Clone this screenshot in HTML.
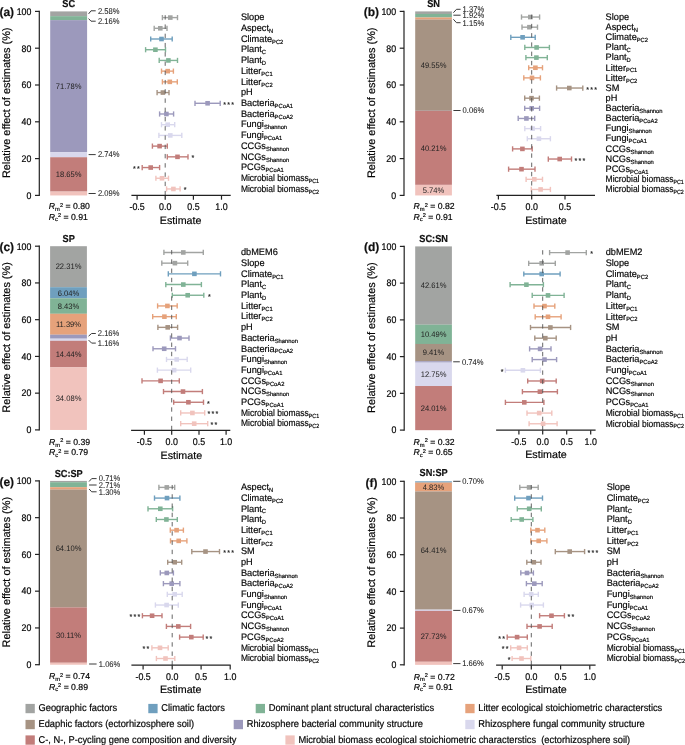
<!DOCTYPE html>
<html><head><meta charset="utf-8"><style>
html,body{margin:0;padding:0;background:#fff;width:685px;height:745px;overflow:hidden;}
svg{display:block;will-change:transform;}
</style></head><body>
<svg width="685" height="745" viewBox="0 0 685 745" font-family='"Liberation Sans", sans-serif' fill="#111" text-rendering="geometricPrecision">
<rect width="685" height="745" fill="#fff"/>
<text transform="translate(-0.6,15.9) scale(1,1.0)" font-size="12.0" font-weight="bold" fill="#111" stroke="#111" stroke-width="0.18">(a)</text>
<text transform="translate(68.7,7.1) scale(1,1.1)" font-size="9.2" text-anchor="middle" font-weight="bold" fill="#111" stroke="#111" stroke-width="0.18">SC</text>
<line x1="39.3" y1="10.8" x2="39.3" y2="196" stroke="#222" stroke-width="1.2"/>
<line x1="35" y1="195.4" x2="39.3" y2="195.4" stroke="#222" stroke-width="1.2"/>
<text transform="translate(31.4,198.7) scale(1,1.1)" font-size="8.8" text-anchor="end" fill="#050505" stroke="#050505" stroke-width="0.18">0</text>
<line x1="35" y1="158.6" x2="39.3" y2="158.6" stroke="#222" stroke-width="1.2"/>
<text transform="translate(31.4,161.9) scale(1,1.1)" font-size="8.8" text-anchor="end" fill="#050505" stroke="#050505" stroke-width="0.18">20</text>
<line x1="35" y1="121.8" x2="39.3" y2="121.8" stroke="#222" stroke-width="1.2"/>
<text transform="translate(31.4,125.1) scale(1,1.1)" font-size="8.8" text-anchor="end" fill="#050505" stroke="#050505" stroke-width="0.18">40</text>
<line x1="35" y1="85" x2="39.3" y2="85" stroke="#222" stroke-width="1.2"/>
<text transform="translate(31.4,88.3) scale(1,1.1)" font-size="8.8" text-anchor="end" fill="#050505" stroke="#050505" stroke-width="0.18">60</text>
<line x1="35" y1="48.2" x2="39.3" y2="48.2" stroke="#222" stroke-width="1.2"/>
<text transform="translate(31.4,51.5) scale(1,1.1)" font-size="8.8" text-anchor="end" fill="#050505" stroke="#050505" stroke-width="0.18">80</text>
<line x1="35" y1="11.4" x2="39.3" y2="11.4" stroke="#222" stroke-width="1.2"/>
<text transform="translate(31.4,14.7) scale(1,1.1)" font-size="8.8" text-anchor="end" fill="#050505" stroke="#050505" stroke-width="0.18">100</text>
<text transform="translate(9.9,102.8) rotate(-90) scale(1,1.0)" font-size="10.9" text-anchor="middle" fill="#050505" stroke="#050505" stroke-width="0.18">Relative effect of estimates (%)</text>
<rect x="50.2" y="11.4" width="36.9" height="4.8" fill="#a2a4a2"/>
<rect x="50.2" y="16.15" width="36.9" height="4.02" fill="#80b396"/>
<rect x="50.2" y="20.12" width="36.9" height="132.13" fill="#9c99bc"/>
<text transform="translate(68.65,88.96) scale(1,1.05)" font-size="7.6" text-anchor="middle" fill="#1e1e1e" stroke="#1e1e1e" stroke-width="0">71.78%</text>
<rect x="50.2" y="152.2" width="36.9" height="5.09" fill="#d9d8ed"/>
<rect x="50.2" y="157.24" width="36.9" height="34.37" fill="#c27d7a"/>
<text transform="translate(68.65,177.2) scale(1,1.05)" font-size="7.6" text-anchor="middle" fill="#1e1e1e" stroke="#1e1e1e" stroke-width="0">18.65%</text>
<rect x="50.2" y="191.55" width="36.9" height="3.9" fill="#f1c3bd"/>
<polyline points="88.6,13.9 91,10.8 95.7,10.8" fill="none" stroke="#3a3a3a" stroke-width="1.0"/>
<text transform="translate(97.9,13.6) scale(1,1.1)" font-size="7.6" fill="#1a1a1a" stroke="#1a1a1a" stroke-width="0.06">2.58%</text>
<polyline points="88.6,18.6 91,21.2 95.7,21.2" fill="none" stroke="#3a3a3a" stroke-width="1.0"/>
<text transform="translate(97.9,24) scale(1,1.1)" font-size="7.6" fill="#1a1a1a" stroke="#1a1a1a" stroke-width="0.06">2.16%</text>
<line x1="88.6" y1="154.6" x2="95.7" y2="154.6" stroke="#3a3a3a" stroke-width="1.0"/>
<text transform="translate(97.9,157.4) scale(1,1.1)" font-size="7.6" fill="#1a1a1a" stroke="#1a1a1a" stroke-width="0.06">2.74%</text>
<line x1="88.6" y1="193.5" x2="95.7" y2="193.5" stroke="#3a3a3a" stroke-width="1.0"/>
<text transform="translate(97.9,196.3) scale(1,1.1)" font-size="7.6" fill="#1a1a1a" stroke="#1a1a1a" stroke-width="0.06">2.09%</text>
<text transform="translate(48.8,209.1) scale(1,1.0)" font-size="8.7" fill="#050505" stroke="#050505" stroke-width="0.18"><tspan font-style="italic">R</tspan><tspan font-size="5.8" dy="1.7">m</tspan><tspan font-size="5.6" dy="-4.3">2</tspan><tspan dy="2.6"> = 0.80</tspan></text>
<text transform="translate(48.8,219.6) scale(1,1.0)" font-size="8.7" fill="#050505" stroke="#050505" stroke-width="0.18"><tspan font-style="italic">R</tspan><tspan font-size="5.8" dy="1.7">c</tspan><tspan font-size="5.6" dy="-4.3">2</tspan><tspan dy="2.6"> = 0.91</tspan></text>
<g stroke="#a2a4a2" stroke-width="1.4"><line x1="162.4" y1="17.58" x2="177.5" y2="17.58"/><line x1="162.4" y1="14.98" x2="162.4" y2="20.18"/><line x1="177.5" y1="14.98" x2="177.5" y2="20.18"/></g>
<rect x="168" y="15.28" width="4.6" height="4.6" fill="#a2a4a2"/>
<text transform="translate(240.9,20.33) scale(1,1.03)" font-size="9.2" fill="#050505" stroke="#050505" stroke-width="0.18">Slope</text>
<g stroke="#a2a4a2" stroke-width="1.4"><line x1="154.2" y1="28.29" x2="167" y2="28.29"/><line x1="154.2" y1="25.69" x2="154.2" y2="30.89"/><line x1="167" y1="25.69" x2="167" y2="30.89"/></g>
<rect x="158" y="25.99" width="4.6" height="4.6" fill="#a2a4a2"/>
<text transform="translate(240.9,31.04) scale(1,1.03)" font-size="9.2" fill="#050505" stroke="#050505" stroke-width="0.18">Aspect<tspan font-size="5.8" dy="1.9">N</tspan></text>
<g stroke="#6f9fbe" stroke-width="1.4"><line x1="150.7" y1="39" x2="172.2" y2="39"/><line x1="150.7" y1="36.4" x2="150.7" y2="41.6"/><line x1="172.2" y1="36.4" x2="172.2" y2="41.6"/></g>
<rect x="159.2" y="36.7" width="4.6" height="4.6" fill="#6f9fbe"/>
<text transform="translate(240.9,41.75) scale(1,1.03)" font-size="9.2" fill="#050505" stroke="#050505" stroke-width="0.18">Climate<tspan font-size="5.8" dy="1.9">PC2</tspan></text>
<g stroke="#80b396" stroke-width="1.4"><line x1="145.6" y1="49.72" x2="165.5" y2="49.72"/><line x1="145.6" y1="47.12" x2="145.6" y2="52.32"/><line x1="165.5" y1="47.12" x2="165.5" y2="52.32"/></g>
<rect x="153.1" y="47.42" width="4.6" height="4.6" fill="#80b396"/>
<text transform="translate(240.9,52.47) scale(1,1.03)" font-size="9.2" fill="#050505" stroke="#050505" stroke-width="0.18">Plant<tspan font-size="5.8" dy="1.9">C</tspan></text>
<g stroke="#80b396" stroke-width="1.4"><line x1="159.2" y1="60.43" x2="177.5" y2="60.43"/><line x1="159.2" y1="57.83" x2="159.2" y2="63.03"/><line x1="177.5" y1="57.83" x2="177.5" y2="63.03"/></g>
<rect x="166.1" y="58.13" width="4.6" height="4.6" fill="#80b396"/>
<text transform="translate(240.9,63.18) scale(1,1.03)" font-size="9.2" fill="#050505" stroke="#050505" stroke-width="0.18">Plant<tspan font-size="5.8" dy="1.9">D</tspan></text>
<g stroke="#e6a27b" stroke-width="1.4"><line x1="161.5" y1="71.14" x2="173.4" y2="71.14"/><line x1="161.5" y1="68.54" x2="161.5" y2="73.74"/><line x1="173.4" y1="68.54" x2="173.4" y2="73.74"/></g>
<rect x="165.4" y="68.84" width="4.6" height="4.6" fill="#e6a27b"/>
<text transform="translate(240.9,73.89) scale(1,1.03)" font-size="9.2" fill="#050505" stroke="#050505" stroke-width="0.18">Litter<tspan font-size="5.8" dy="1.9">PC1</tspan></text>
<g stroke="#e6a27b" stroke-width="1.4"><line x1="162.4" y1="81.85" x2="177.3" y2="81.85"/><line x1="162.4" y1="79.25" x2="162.4" y2="84.45"/><line x1="177.3" y1="79.25" x2="177.3" y2="84.45"/></g>
<rect x="167.5" y="79.55" width="4.6" height="4.6" fill="#e6a27b"/>
<text transform="translate(240.9,84.6) scale(1,1.03)" font-size="9.2" fill="#050505" stroke="#050505" stroke-width="0.18">Litter<tspan font-size="5.8" dy="1.9">PC2</tspan></text>
<g stroke="#a69383" stroke-width="1.4"><line x1="157.1" y1="92.56" x2="169" y2="92.56"/><line x1="157.1" y1="89.96" x2="157.1" y2="95.16"/><line x1="169" y1="89.96" x2="169" y2="95.16"/></g>
<rect x="160.6" y="90.26" width="4.6" height="4.6" fill="#a69383"/>
<text transform="translate(240.9,95.31) scale(1,1.03)" font-size="9.2" fill="#050505" stroke="#050505" stroke-width="0.18">pH</text>
<g stroke="#9c99bc" stroke-width="1.4"><line x1="195" y1="103.28" x2="220.2" y2="103.28"/><line x1="195" y1="100.68" x2="195" y2="105.88"/><line x1="220.2" y1="100.68" x2="220.2" y2="105.88"/></g>
<rect x="205.3" y="100.98" width="4.6" height="4.6" fill="#9c99bc"/>
<text transform="translate(223.2,106.78) scale(1,1.0)" font-size="7.1" fill="#111" stroke="#111" stroke-width="0.15" letter-spacing="1.25">***</text>
<text transform="translate(240.9,106.03) scale(1,1.03)" font-size="9.2" fill="#050505" stroke="#050505" stroke-width="0.18">Bacteria<tspan font-size="5.8" dy="1.9">PCoA1</tspan></text>
<g stroke="#9c99bc" stroke-width="1.4"><line x1="159.6" y1="113.99" x2="173.6" y2="113.99"/><line x1="159.6" y1="111.39" x2="159.6" y2="116.59"/><line x1="173.6" y1="111.39" x2="173.6" y2="116.59"/></g>
<rect x="164.1" y="111.69" width="4.6" height="4.6" fill="#9c99bc"/>
<text transform="translate(240.9,116.74) scale(1,1.03)" font-size="9.2" fill="#050505" stroke="#050505" stroke-width="0.18">Bacteria<tspan font-size="5.8" dy="1.9">PCoA2</tspan></text>
<g stroke="#d9d8ed" stroke-width="1.4"><line x1="161.5" y1="124.7" x2="174.7" y2="124.7"/><line x1="161.5" y1="122.1" x2="161.5" y2="127.3"/><line x1="174.7" y1="122.1" x2="174.7" y2="127.3"/></g>
<rect x="165.4" y="122.4" width="4.6" height="4.6" fill="#d9d8ed"/>
<text transform="translate(240.9,127.45) scale(1,1.03)" font-size="9.2" fill="#050505" stroke="#050505" stroke-width="0.18">Fungi<tspan font-size="5.8" dy="1.9">Shannon</tspan></text>
<g stroke="#d9d8ed" stroke-width="1.4"><line x1="158.9" y1="135.41" x2="181.8" y2="135.41"/><line x1="158.9" y1="132.81" x2="158.9" y2="138.01"/><line x1="181.8" y1="132.81" x2="181.8" y2="138.01"/></g>
<rect x="168" y="133.11" width="4.6" height="4.6" fill="#d9d8ed"/>
<text transform="translate(240.9,138.16) scale(1,1.03)" font-size="9.2" fill="#050505" stroke="#050505" stroke-width="0.18">Fungi<tspan font-size="5.8" dy="1.9">PCoA1</tspan></text>
<g stroke="#c27d7a" stroke-width="1.4"><line x1="152.4" y1="146.12" x2="167.3" y2="146.12"/><line x1="152.4" y1="143.52" x2="152.4" y2="148.72"/><line x1="167.3" y1="143.52" x2="167.3" y2="148.72"/></g>
<rect x="157.3" y="143.82" width="4.6" height="4.6" fill="#c27d7a"/>
<text transform="translate(240.9,148.87) scale(1,1.03)" font-size="9.2" fill="#050505" stroke="#050505" stroke-width="0.18">CCGs<tspan font-size="5.8" dy="1.9">Shannon</tspan></text>
<g stroke="#c27d7a" stroke-width="1.4"><line x1="167.3" y1="156.84" x2="188" y2="156.84"/><line x1="167.3" y1="154.24" x2="167.3" y2="159.44"/><line x1="188" y1="154.24" x2="188" y2="159.44"/></g>
<rect x="175.2" y="154.54" width="4.6" height="4.6" fill="#c27d7a"/>
<text transform="translate(191.6,160.34) scale(1,1.0)" font-size="7.1" fill="#111" stroke="#111" stroke-width="0.15" letter-spacing="1.25">*</text>
<text transform="translate(240.9,159.59) scale(1,1.03)" font-size="9.2" fill="#050505" stroke="#050505" stroke-width="0.18">NCGs<tspan font-size="5.8" dy="1.9">Shannon</tspan></text>
<g stroke="#c27d7a" stroke-width="1.4"><line x1="142.2" y1="167.55" x2="159.6" y2="167.55"/><line x1="142.2" y1="164.95" x2="142.2" y2="170.15"/><line x1="159.6" y1="164.95" x2="159.6" y2="170.15"/></g>
<rect x="148.4" y="165.25" width="4.6" height="4.6" fill="#c27d7a"/>
<text transform="translate(132.9,171.05) scale(1,1.0)" font-size="7.1" fill="#111" stroke="#111" stroke-width="0.15" letter-spacing="1.25">**</text>
<text transform="translate(240.9,170.3) scale(1,1.03)" font-size="9.2" fill="#050505" stroke="#050505" stroke-width="0.18">PCGs<tspan font-size="5.8" dy="1.9">PCoA1</tspan></text>
<g stroke="#f1c3bd" stroke-width="1.4"><line x1="155.9" y1="178.26" x2="168.5" y2="178.26"/><line x1="155.9" y1="175.66" x2="155.9" y2="180.86"/><line x1="168.5" y1="175.66" x2="168.5" y2="180.86"/></g>
<rect x="159.7" y="175.96" width="4.6" height="4.6" fill="#f1c3bd"/>
<text transform="translate(240.9,181.01) scale(1,1.03)" font-size="9.2" fill="#050505" stroke="#050505" stroke-width="0.18" textLength="78.2" lengthAdjust="spacingAndGlyphs">Microbial biomass<tspan font-size="5.8" dy="1.9">PC1</tspan></text>
<g stroke="#f1c3bd" stroke-width="1.4"><line x1="166.6" y1="188.97" x2="180.1" y2="188.97"/><line x1="166.6" y1="186.37" x2="166.6" y2="191.57"/><line x1="180.1" y1="186.37" x2="180.1" y2="191.57"/></g>
<rect x="171.1" y="186.67" width="4.6" height="4.6" fill="#f1c3bd"/>
<text transform="translate(183.8,192.47) scale(1,1.0)" font-size="7.1" fill="#111" stroke="#111" stroke-width="0.15" letter-spacing="1.25">*</text>
<text transform="translate(240.9,191.72) scale(1,1.03)" font-size="9.2" fill="#050505" stroke="#050505" stroke-width="0.18" textLength="78.2" lengthAdjust="spacingAndGlyphs">Microbial biomass<tspan font-size="5.8" dy="1.9">PC2</tspan></text>
<line x1="165.2" y1="15.18" x2="165.2" y2="195.4" stroke="#555" stroke-width="0.9" stroke-dasharray="4.4,4.85"/>
<line x1="131.4" y1="195.4" x2="230.7" y2="195.4" stroke="#222" stroke-width="1.2"/>
<line x1="137.1" y1="195.4" x2="137.1" y2="199.7" stroke="#222" stroke-width="1.2"/>
<text transform="translate(137.1,210) scale(1,1.1)" font-size="8.9" text-anchor="middle" fill="#050505" stroke="#050505" stroke-width="0.18">-0.5</text>
<line x1="165.2" y1="195.4" x2="165.2" y2="199.7" stroke="#222" stroke-width="1.2"/>
<text transform="translate(165.2,210) scale(1,1.1)" font-size="8.9" text-anchor="middle" fill="#050505" stroke="#050505" stroke-width="0.18">0.0</text>
<line x1="193.4" y1="195.4" x2="193.4" y2="199.7" stroke="#222" stroke-width="1.2"/>
<text transform="translate(193.4,210) scale(1,1.1)" font-size="8.9" text-anchor="middle" fill="#050505" stroke="#050505" stroke-width="0.18">0.5</text>
<line x1="221.5" y1="195.4" x2="221.5" y2="199.7" stroke="#222" stroke-width="1.2"/>
<text transform="translate(221.5,210) scale(1,1.1)" font-size="8.9" text-anchor="middle" fill="#050505" stroke="#050505" stroke-width="0.18">1.0</text>
<text transform="translate(180.6,223.6) scale(1,1.0)" font-size="10.7" text-anchor="middle" fill="#050505" stroke="#050505" stroke-width="0.18">Estimate</text>
<text transform="translate(363.7,15.9) scale(1,1.0)" font-size="12.0" font-weight="bold" fill="#111" stroke="#111" stroke-width="0.18">(b)</text>
<text transform="translate(433.6,7.1) scale(1,1.1)" font-size="9.2" text-anchor="middle" font-weight="bold" fill="#111" stroke="#111" stroke-width="0.18">SN</text>
<line x1="404" y1="10.8" x2="404" y2="196" stroke="#222" stroke-width="1.2"/>
<line x1="399.7" y1="195.4" x2="404" y2="195.4" stroke="#222" stroke-width="1.2"/>
<text transform="translate(396.1,198.7) scale(1,1.1)" font-size="8.8" text-anchor="end" fill="#050505" stroke="#050505" stroke-width="0.18">0</text>
<line x1="399.7" y1="158.6" x2="404" y2="158.6" stroke="#222" stroke-width="1.2"/>
<text transform="translate(396.1,161.9) scale(1,1.1)" font-size="8.8" text-anchor="end" fill="#050505" stroke="#050505" stroke-width="0.18">20</text>
<line x1="399.7" y1="121.8" x2="404" y2="121.8" stroke="#222" stroke-width="1.2"/>
<text transform="translate(396.1,125.1) scale(1,1.1)" font-size="8.8" text-anchor="end" fill="#050505" stroke="#050505" stroke-width="0.18">40</text>
<line x1="399.7" y1="85" x2="404" y2="85" stroke="#222" stroke-width="1.2"/>
<text transform="translate(396.1,88.3) scale(1,1.1)" font-size="8.8" text-anchor="end" fill="#050505" stroke="#050505" stroke-width="0.18">60</text>
<line x1="399.7" y1="48.2" x2="404" y2="48.2" stroke="#222" stroke-width="1.2"/>
<text transform="translate(396.1,51.5) scale(1,1.1)" font-size="8.8" text-anchor="end" fill="#050505" stroke="#050505" stroke-width="0.18">80</text>
<line x1="399.7" y1="11.4" x2="404" y2="11.4" stroke="#222" stroke-width="1.2"/>
<text transform="translate(396.1,14.7) scale(1,1.1)" font-size="8.8" text-anchor="end" fill="#050505" stroke="#050505" stroke-width="0.18">100</text>
<text transform="translate(374.6,102.8) rotate(-90) scale(1,1.0)" font-size="10.9" text-anchor="middle" fill="#050505" stroke="#050505" stroke-width="0.18">Relative effect of estimates (%)</text>
<rect x="415.2" y="11.4" width="36.7" height="2.57" fill="#a2a4a2"/>
<rect x="415.2" y="13.92" width="36.7" height="3.58" fill="#80b396"/>
<rect x="415.2" y="17.45" width="36.7" height="2.17" fill="#e6a27b"/>
<rect x="415.2" y="19.57" width="36.7" height="91.22" fill="#a69383"/>
<text transform="translate(433.55,67.96) scale(1,1.05)" font-size="7.6" text-anchor="middle" fill="#1e1e1e" stroke="#1e1e1e" stroke-width="0">49.55%</text>
<rect x="415.2" y="110.74" width="36.7" height="0.16" fill="#9c99bc"/>
<rect x="415.2" y="110.85" width="36.7" height="74.04" fill="#c27d7a"/>
<text transform="translate(433.55,150.65) scale(1,1.05)" font-size="7.6" text-anchor="middle" fill="#1e1e1e" stroke="#1e1e1e" stroke-width="0">40.21%</text>
<rect x="415.2" y="184.84" width="36.7" height="10.61" fill="#f1c3bd"/>
<text transform="translate(433.55,192.92) scale(1,1.05)" font-size="7.6" text-anchor="middle" fill="#1e1e1e" stroke="#1e1e1e" stroke-width="0">5.74%</text>
<polyline points="453.4,12.7 456.5,9.3 460.6,9.3" fill="none" stroke="#3a3a3a" stroke-width="1.0"/>
<text transform="translate(462.6,12.1) scale(1,1.1)" font-size="7.6" fill="#1a1a1a" stroke="#1a1a1a" stroke-width="0.06">1.37%</text>
<line x1="453.4" y1="15.2" x2="460.6" y2="15.2" stroke="#3a3a3a" stroke-width="1.0"/>
<text transform="translate(462.6,18) scale(1,1.1)" font-size="7.6" fill="#1a1a1a" stroke="#1a1a1a" stroke-width="0.06">1.92%</text>
<polyline points="453.4,19.3 456.5,22.7 460.6,22.7" fill="none" stroke="#3a3a3a" stroke-width="1.0"/>
<text transform="translate(462.6,25.5) scale(1,1.1)" font-size="7.6" fill="#1a1a1a" stroke="#1a1a1a" stroke-width="0.06">1.15%</text>
<line x1="453.4" y1="110.5" x2="460.6" y2="110.5" stroke="#3a3a3a" stroke-width="1.0"/>
<text transform="translate(462.6,113.3) scale(1,1.1)" font-size="7.6" fill="#1a1a1a" stroke="#1a1a1a" stroke-width="0.06">0.06%</text>
<text transform="translate(413.5,209.3) scale(1,1.0)" font-size="8.7" fill="#050505" stroke="#050505" stroke-width="0.18"><tspan font-style="italic">R</tspan><tspan font-size="5.8" dy="1.7">m</tspan><tspan font-size="5.6" dy="-4.3">2</tspan><tspan dy="2.6"> = 0.82</tspan></text>
<text transform="translate(413.5,219.6) scale(1,1.0)" font-size="8.7" fill="#050505" stroke="#050505" stroke-width="0.18"><tspan font-style="italic">R</tspan><tspan font-size="5.8" dy="1.7">c</tspan><tspan font-size="5.6" dy="-4.3">2</tspan><tspan dy="2.6"> = 0.91</tspan></text>
<g stroke="#a2a4a2" stroke-width="1.4"><line x1="521.5" y1="17.04" x2="539.6" y2="17.04"/><line x1="521.5" y1="14.44" x2="521.5" y2="19.64"/><line x1="539.6" y1="14.44" x2="539.6" y2="19.64"/></g>
<rect x="528" y="14.74" width="4.6" height="4.6" fill="#a2a4a2"/>
<text transform="translate(605.6,19.79) scale(1,1.03)" font-size="9.2" fill="#050505" stroke="#050505" stroke-width="0.18">Slope</text>
<g stroke="#a2a4a2" stroke-width="1.4"><line x1="522" y1="27.18" x2="537.5" y2="27.18"/><line x1="522" y1="24.58" x2="522" y2="29.78"/><line x1="537.5" y1="24.58" x2="537.5" y2="29.78"/></g>
<rect x="527.1" y="24.88" width="4.6" height="4.6" fill="#a2a4a2"/>
<text transform="translate(605.6,29.93) scale(1,1.03)" font-size="9.2" fill="#050505" stroke="#050505" stroke-width="0.18">Aspect<tspan font-size="5.8" dy="1.9">N</tspan></text>
<g stroke="#6f9fbe" stroke-width="1.4"><line x1="510.8" y1="37.32" x2="535.2" y2="37.32"/><line x1="510.8" y1="34.72" x2="510.8" y2="39.92"/><line x1="535.2" y1="34.72" x2="535.2" y2="39.92"/></g>
<rect x="520.3" y="35.02" width="4.6" height="4.6" fill="#6f9fbe"/>
<text transform="translate(605.6,40.07) scale(1,1.03)" font-size="9.2" fill="#050505" stroke="#050505" stroke-width="0.18">Climate<tspan font-size="5.8" dy="1.9">PC2</tspan></text>
<g stroke="#80b396" stroke-width="1.4"><line x1="524.8" y1="47.47" x2="549.4" y2="47.47"/><line x1="524.8" y1="44.87" x2="524.8" y2="50.07"/><line x1="549.4" y1="44.87" x2="549.4" y2="50.07"/></g>
<rect x="534.3" y="45.17" width="4.6" height="4.6" fill="#80b396"/>
<text transform="translate(605.6,50.22) scale(1,1.03)" font-size="9.2" fill="#050505" stroke="#050505" stroke-width="0.18">Plant<tspan font-size="5.8" dy="1.9">C</tspan></text>
<g stroke="#80b396" stroke-width="1.4"><line x1="525.9" y1="57.61" x2="547.3" y2="57.61"/><line x1="525.9" y1="55.01" x2="525.9" y2="60.21"/><line x1="547.3" y1="55.01" x2="547.3" y2="60.21"/></g>
<rect x="534.1" y="55.31" width="4.6" height="4.6" fill="#80b396"/>
<text transform="translate(605.6,60.36) scale(1,1.03)" font-size="9.2" fill="#050505" stroke="#050505" stroke-width="0.18">Plant<tspan font-size="5.8" dy="1.9">D</tspan></text>
<g stroke="#e6a27b" stroke-width="1.4"><line x1="528.7" y1="67.75" x2="542.5" y2="67.75"/><line x1="528.7" y1="65.15" x2="528.7" y2="70.35"/><line x1="542.5" y1="65.15" x2="542.5" y2="70.35"/></g>
<rect x="533.1" y="65.45" width="4.6" height="4.6" fill="#e6a27b"/>
<text transform="translate(605.6,70.5) scale(1,1.03)" font-size="9.2" fill="#050505" stroke="#050505" stroke-width="0.18">Litter<tspan font-size="5.8" dy="1.9">PC1</tspan></text>
<g stroke="#e6a27b" stroke-width="1.4"><line x1="523.8" y1="77.89" x2="540.4" y2="77.89"/><line x1="523.8" y1="75.29" x2="523.8" y2="80.49"/><line x1="540.4" y1="75.29" x2="540.4" y2="80.49"/></g>
<rect x="529.7" y="75.59" width="4.6" height="4.6" fill="#e6a27b"/>
<text transform="translate(605.6,80.64) scale(1,1.03)" font-size="9.2" fill="#050505" stroke="#050505" stroke-width="0.18">Litter<tspan font-size="5.8" dy="1.9">PC2</tspan></text>
<g stroke="#a69383" stroke-width="1.4"><line x1="556.6" y1="88.03" x2="582.8" y2="88.03"/><line x1="556.6" y1="85.43" x2="556.6" y2="90.63"/><line x1="582.8" y1="85.43" x2="582.8" y2="90.63"/></g>
<rect x="567" y="85.73" width="4.6" height="4.6" fill="#a69383"/>
<text transform="translate(586.3,91.53) scale(1,1.0)" font-size="7.1" fill="#111" stroke="#111" stroke-width="0.15" letter-spacing="1.25">***</text>
<text transform="translate(605.6,90.78) scale(1,1.03)" font-size="9.2" fill="#050505" stroke="#050505" stroke-width="0.18">SM</text>
<g stroke="#a69383" stroke-width="1.4"><line x1="524.7" y1="98.18" x2="539.4" y2="98.18"/><line x1="524.7" y1="95.58" x2="524.7" y2="100.78"/><line x1="539.4" y1="95.58" x2="539.4" y2="100.78"/></g>
<rect x="529.2" y="95.88" width="4.6" height="4.6" fill="#a69383"/>
<text transform="translate(605.6,100.93) scale(1,1.03)" font-size="9.2" fill="#050505" stroke="#050505" stroke-width="0.18">pH</text>
<g stroke="#9c99bc" stroke-width="1.4"><line x1="524.7" y1="108.32" x2="539.6" y2="108.32"/><line x1="524.7" y1="105.72" x2="524.7" y2="110.92"/><line x1="539.6" y1="105.72" x2="539.6" y2="110.92"/></g>
<rect x="529.4" y="106.02" width="4.6" height="4.6" fill="#9c99bc"/>
<text transform="translate(605.6,111.07) scale(1,1.03)" font-size="9.2" fill="#050505" stroke="#050505" stroke-width="0.18">Bacteria<tspan font-size="5.8" dy="1.9">Shannon</tspan></text>
<g stroke="#9c99bc" stroke-width="1.4"><line x1="518.2" y1="118.46" x2="534.7" y2="118.46"/><line x1="518.2" y1="115.86" x2="518.2" y2="121.06"/><line x1="534.7" y1="115.86" x2="534.7" y2="121.06"/></g>
<rect x="524.1" y="116.16" width="4.6" height="4.6" fill="#9c99bc"/>
<text transform="translate(605.6,121.21) scale(1,1.03)" font-size="9.2" fill="#050505" stroke="#050505" stroke-width="0.18">Bacteria<tspan font-size="5.8" dy="1.9">PCoA2</tspan></text>
<g stroke="#d9d8ed" stroke-width="1.4"><line x1="524.8" y1="128.6" x2="540.6" y2="128.6"/><line x1="524.8" y1="126" x2="524.8" y2="131.2"/><line x1="540.6" y1="126" x2="540.6" y2="131.2"/></g>
<rect x="530.3" y="126.3" width="4.6" height="4.6" fill="#d9d8ed"/>
<text transform="translate(605.6,131.35) scale(1,1.03)" font-size="9.2" fill="#050505" stroke="#050505" stroke-width="0.18">Fungi<tspan font-size="5.8" dy="1.9">Shannon</tspan></text>
<g stroke="#d9d8ed" stroke-width="1.4"><line x1="527.3" y1="138.74" x2="550.4" y2="138.74"/><line x1="527.3" y1="136.14" x2="527.3" y2="141.34"/><line x1="550.4" y1="136.14" x2="550.4" y2="141.34"/></g>
<rect x="536.6" y="136.44" width="4.6" height="4.6" fill="#d9d8ed"/>
<text transform="translate(605.6,141.49) scale(1,1.03)" font-size="9.2" fill="#050505" stroke="#050505" stroke-width="0.18">Fungi<tspan font-size="5.8" dy="1.9">PCoA1</tspan></text>
<g stroke="#c27d7a" stroke-width="1.4"><line x1="512.6" y1="148.89" x2="532.2" y2="148.89"/><line x1="512.6" y1="146.29" x2="512.6" y2="151.49"/><line x1="532.2" y1="146.29" x2="532.2" y2="151.49"/></g>
<rect x="520.1" y="146.59" width="4.6" height="4.6" fill="#c27d7a"/>
<text transform="translate(605.6,151.64) scale(1,1.03)" font-size="9.2" fill="#050505" stroke="#050505" stroke-width="0.18">CCGs<tspan font-size="5.8" dy="1.9">Shannon</tspan></text>
<g stroke="#c27d7a" stroke-width="1.4"><line x1="548.3" y1="159.03" x2="571.5" y2="159.03"/><line x1="548.3" y1="156.43" x2="548.3" y2="161.63"/><line x1="571.5" y1="156.43" x2="571.5" y2="161.63"/></g>
<rect x="557.4" y="156.73" width="4.6" height="4.6" fill="#c27d7a"/>
<text transform="translate(574.4,162.53) scale(1,1.0)" font-size="7.1" fill="#111" stroke="#111" stroke-width="0.15" letter-spacing="1.25">***</text>
<text transform="translate(605.6,161.78) scale(1,1.03)" font-size="9.2" fill="#050505" stroke="#050505" stroke-width="0.18">NCGs<tspan font-size="5.8" dy="1.9">Shannon</tspan></text>
<g stroke="#c27d7a" stroke-width="1.4"><line x1="508.6" y1="169.17" x2="535" y2="169.17"/><line x1="508.6" y1="166.57" x2="508.6" y2="171.77"/><line x1="535" y1="166.57" x2="535" y2="171.77"/></g>
<rect x="519.2" y="166.87" width="4.6" height="4.6" fill="#c27d7a"/>
<text transform="translate(605.6,171.92) scale(1,1.03)" font-size="9.2" fill="#050505" stroke="#050505" stroke-width="0.18">PCGs<tspan font-size="5.8" dy="1.9">PCoA1</tspan></text>
<g stroke="#f1c3bd" stroke-width="1.4"><line x1="526.1" y1="179.31" x2="542.5" y2="179.31"/><line x1="526.1" y1="176.71" x2="526.1" y2="181.91"/><line x1="542.5" y1="176.71" x2="542.5" y2="181.91"/></g>
<rect x="532" y="177.01" width="4.6" height="4.6" fill="#f1c3bd"/>
<text transform="translate(605.6,182.06) scale(1,1.03)" font-size="9.2" fill="#050505" stroke="#050505" stroke-width="0.18" textLength="78.2" lengthAdjust="spacingAndGlyphs">Microbial biomass<tspan font-size="5.8" dy="1.9">PC1</tspan></text>
<g stroke="#f1c3bd" stroke-width="1.4"><line x1="531.3" y1="189.45" x2="550.4" y2="189.45"/><line x1="531.3" y1="186.85" x2="531.3" y2="192.05"/><line x1="550.4" y1="186.85" x2="550.4" y2="192.05"/></g>
<rect x="538.3" y="187.15" width="4.6" height="4.6" fill="#f1c3bd"/>
<text transform="translate(605.6,192.2) scale(1,1.03)" font-size="9.2" fill="#050505" stroke="#050505" stroke-width="0.18" textLength="78.2" lengthAdjust="spacingAndGlyphs">Microbial biomass<tspan font-size="5.8" dy="1.9">PC2</tspan></text>
<line x1="531.7" y1="14.64" x2="531.7" y2="195.3" stroke="#555" stroke-width="0.9" stroke-dasharray="4.4,4.85"/>
<line x1="496.4" y1="195.3" x2="595" y2="195.3" stroke="#222" stroke-width="1.2"/>
<line x1="498.4" y1="195.3" x2="498.4" y2="199.6" stroke="#222" stroke-width="1.2"/>
<text transform="translate(498.4,209.9) scale(1,1.1)" font-size="8.9" text-anchor="middle" fill="#050505" stroke="#050505" stroke-width="0.18">-0.5</text>
<line x1="531.7" y1="195.3" x2="531.7" y2="199.6" stroke="#222" stroke-width="1.2"/>
<text transform="translate(531.7,209.9) scale(1,1.1)" font-size="8.9" text-anchor="middle" fill="#050505" stroke="#050505" stroke-width="0.18">0.0</text>
<line x1="565" y1="195.3" x2="565" y2="199.6" stroke="#222" stroke-width="1.2"/>
<text transform="translate(565,209.9) scale(1,1.1)" font-size="8.9" text-anchor="middle" fill="#050505" stroke="#050505" stroke-width="0.18">0.5</text>
<text transform="translate(546,223.5) scale(1,1.0)" font-size="10.7" text-anchor="middle" fill="#050505" stroke="#050505" stroke-width="0.18">Estimate</text>
<text transform="translate(-0.6,251) scale(1,1.0)" font-size="12.0" font-weight="bold" fill="#111" stroke="#111" stroke-width="0.18">(c)</text>
<text transform="translate(68.7,242) scale(1,1.1)" font-size="9.2" text-anchor="middle" font-weight="bold" fill="#111" stroke="#111" stroke-width="0.18">SP</text>
<line x1="39.3" y1="245.6" x2="39.3" y2="430.5" stroke="#222" stroke-width="1.2"/>
<line x1="35" y1="429.9" x2="39.3" y2="429.9" stroke="#222" stroke-width="1.2"/>
<text transform="translate(31.4,433.2) scale(1,1.1)" font-size="8.8" text-anchor="end" fill="#050505" stroke="#050505" stroke-width="0.18">0</text>
<line x1="35" y1="393.16" x2="39.3" y2="393.16" stroke="#222" stroke-width="1.2"/>
<text transform="translate(31.4,396.46) scale(1,1.1)" font-size="8.8" text-anchor="end" fill="#050505" stroke="#050505" stroke-width="0.18">20</text>
<line x1="35" y1="356.42" x2="39.3" y2="356.42" stroke="#222" stroke-width="1.2"/>
<text transform="translate(31.4,359.72) scale(1,1.1)" font-size="8.8" text-anchor="end" fill="#050505" stroke="#050505" stroke-width="0.18">40</text>
<line x1="35" y1="319.68" x2="39.3" y2="319.68" stroke="#222" stroke-width="1.2"/>
<text transform="translate(31.4,322.98) scale(1,1.1)" font-size="8.8" text-anchor="end" fill="#050505" stroke="#050505" stroke-width="0.18">60</text>
<line x1="35" y1="282.94" x2="39.3" y2="282.94" stroke="#222" stroke-width="1.2"/>
<text transform="translate(31.4,286.24) scale(1,1.1)" font-size="8.8" text-anchor="end" fill="#050505" stroke="#050505" stroke-width="0.18">80</text>
<line x1="35" y1="246.2" x2="39.3" y2="246.2" stroke="#222" stroke-width="1.2"/>
<text transform="translate(31.4,249.5) scale(1,1.1)" font-size="8.8" text-anchor="end" fill="#050505" stroke="#050505" stroke-width="0.18">100</text>
<text transform="translate(9.9,337.45) rotate(-90) scale(1,1.0)" font-size="10.9" text-anchor="middle" fill="#050505" stroke="#050505" stroke-width="0.18">Relative effect of estimates (%)</text>
<rect x="50.1" y="246.2" width="36.8" height="41.03" fill="#a2a4a2"/>
<text transform="translate(68.5,269.49) scale(1,1.05)" font-size="7.6" text-anchor="middle" fill="#1e1e1e" stroke="#1e1e1e" stroke-width="0">22.31%</text>
<rect x="50.1" y="287.18" width="36.8" height="11.15" fill="#6f9fbe"/>
<text transform="translate(68.5,295.53) scale(1,1.05)" font-size="7.6" text-anchor="middle" fill="#1e1e1e" stroke="#1e1e1e" stroke-width="0">6.04%</text>
<rect x="50.1" y="298.28" width="36.8" height="15.54" fill="#80b396"/>
<text transform="translate(68.5,308.82) scale(1,1.05)" font-size="7.6" text-anchor="middle" fill="#1e1e1e" stroke="#1e1e1e" stroke-width="0">8.43%</text>
<rect x="50.1" y="313.76" width="36.8" height="20.97" fill="#e6a27b"/>
<text transform="translate(68.5,327.03) scale(1,1.05)" font-size="7.6" text-anchor="middle" fill="#1e1e1e" stroke="#1e1e1e" stroke-width="0">11.39%</text>
<rect x="50.1" y="334.69" width="36.8" height="4.02" fill="#9c99bc"/>
<rect x="50.1" y="338.66" width="36.8" height="2.18" fill="#d9d8ed"/>
<rect x="50.1" y="340.79" width="36.8" height="26.58" fill="#c27d7a"/>
<text transform="translate(68.5,356.85) scale(1,1.05)" font-size="7.6" text-anchor="middle" fill="#1e1e1e" stroke="#1e1e1e" stroke-width="0">14.44%</text>
<rect x="50.1" y="367.31" width="36.8" height="62.65" fill="#f1c3bd"/>
<text transform="translate(68.5,401.42) scale(1,1.05)" font-size="7.6" text-anchor="middle" fill="#1e1e1e" stroke="#1e1e1e" stroke-width="0">34.08%</text>
<polyline points="88.6,336.1 91.6,333.5 95.8,333.5" fill="none" stroke="#3a3a3a" stroke-width="1.0"/>
<text transform="translate(97.8,336.3) scale(1,1.1)" font-size="7.6" fill="#1a1a1a" stroke="#1a1a1a" stroke-width="0.06">2.16%</text>
<polyline points="88.6,340.1 91.6,343.1 95.8,343.1" fill="none" stroke="#3a3a3a" stroke-width="1.0"/>
<text transform="translate(97.8,345.9) scale(1,1.1)" font-size="7.6" fill="#1a1a1a" stroke="#1a1a1a" stroke-width="0.06">1.16%</text>
<text transform="translate(49,444.9) scale(1,1.0)" font-size="8.7" fill="#050505" stroke="#050505" stroke-width="0.18"><tspan font-style="italic">R</tspan><tspan font-size="5.8" dy="1.7">m</tspan><tspan font-size="5.6" dy="-4.3">2</tspan><tspan dy="2.6"> = 0.39</tspan></text>
<text transform="translate(49,455.2) scale(1,1.0)" font-size="8.7" fill="#050505" stroke="#050505" stroke-width="0.18"><tspan font-style="italic">R</tspan><tspan font-size="5.8" dy="1.7">c</tspan><tspan font-size="5.6" dy="-4.3">2</tspan><tspan dy="2.6"> = 0.79</tspan></text>
<g stroke="#a2a4a2" stroke-width="1.4"><line x1="163.9" y1="252.45" x2="203.3" y2="252.45"/><line x1="163.9" y1="249.85" x2="163.9" y2="255.05"/><line x1="203.3" y1="249.85" x2="203.3" y2="255.05"/></g>
<rect x="181" y="250.15" width="4.6" height="4.6" fill="#a2a4a2"/>
<text transform="translate(241,255.2) scale(1,1.03)" font-size="9.2" fill="#050505" stroke="#050505" stroke-width="0.18">dbMEM6</text>
<g stroke="#a2a4a2" stroke-width="1.4"><line x1="161.8" y1="263.15" x2="187.7" y2="263.15"/><line x1="161.8" y1="260.55" x2="161.8" y2="265.75"/><line x1="187.7" y1="260.55" x2="187.7" y2="265.75"/></g>
<rect x="172.6" y="260.85" width="4.6" height="4.6" fill="#a2a4a2"/>
<text transform="translate(241,265.9) scale(1,1.03)" font-size="9.2" fill="#050505" stroke="#050505" stroke-width="0.18">Slope</text>
<g stroke="#6f9fbe" stroke-width="1.4"><line x1="168.3" y1="273.85" x2="220.5" y2="273.85"/><line x1="168.3" y1="271.25" x2="168.3" y2="276.45"/><line x1="220.5" y1="271.25" x2="220.5" y2="276.45"/></g>
<rect x="192.1" y="271.55" width="4.6" height="4.6" fill="#6f9fbe"/>
<text transform="translate(241,276.6) scale(1,1.03)" font-size="9.2" fill="#050505" stroke="#050505" stroke-width="0.18">Climate<tspan font-size="5.8" dy="1.9">PC1</tspan></text>
<g stroke="#80b396" stroke-width="1.4"><line x1="165.8" y1="284.55" x2="201.4" y2="284.55"/><line x1="165.8" y1="281.95" x2="165.8" y2="287.15"/><line x1="201.4" y1="281.95" x2="201.4" y2="287.15"/></g>
<rect x="181" y="282.25" width="4.6" height="4.6" fill="#80b396"/>
<text transform="translate(241,287.3) scale(1,1.03)" font-size="9.2" fill="#050505" stroke="#050505" stroke-width="0.18">Plant<tspan font-size="5.8" dy="1.9">C</tspan></text>
<g stroke="#80b396" stroke-width="1.4"><line x1="172.3" y1="295.25" x2="203.8" y2="295.25"/><line x1="172.3" y1="292.65" x2="172.3" y2="297.85"/><line x1="203.8" y1="292.65" x2="203.8" y2="297.85"/></g>
<rect x="185.4" y="292.95" width="4.6" height="4.6" fill="#80b396"/>
<text transform="translate(208,298.75) scale(1,1.0)" font-size="7.1" fill="#111" stroke="#111" stroke-width="0.15" letter-spacing="1.25">*</text>
<text transform="translate(241,298) scale(1,1.03)" font-size="9.2" fill="#050505" stroke="#050505" stroke-width="0.18">Plant<tspan font-size="5.8" dy="1.9">D</tspan></text>
<g stroke="#e6a27b" stroke-width="1.4"><line x1="157.6" y1="305.95" x2="177.2" y2="305.95"/><line x1="157.6" y1="303.35" x2="157.6" y2="308.56"/><line x1="177.2" y1="303.35" x2="177.2" y2="308.56"/></g>
<rect x="165.1" y="303.65" width="4.6" height="4.6" fill="#e6a27b"/>
<text transform="translate(241,308.7) scale(1,1.03)" font-size="9.2" fill="#050505" stroke="#050505" stroke-width="0.18">Litter<tspan font-size="5.8" dy="1.9">PC1</tspan></text>
<g stroke="#e6a27b" stroke-width="1.4"><line x1="152.7" y1="316.66" x2="176.3" y2="316.66"/><line x1="152.7" y1="314.06" x2="152.7" y2="319.26"/><line x1="176.3" y1="314.06" x2="176.3" y2="319.26"/></g>
<rect x="162.1" y="314.36" width="4.6" height="4.6" fill="#e6a27b"/>
<text transform="translate(241,319.41) scale(1,1.03)" font-size="9.2" fill="#050505" stroke="#050505" stroke-width="0.18">Litter<tspan font-size="5.8" dy="1.9">PC2</tspan></text>
<g stroke="#a69383" stroke-width="1.4"><line x1="157.9" y1="327.36" x2="177.6" y2="327.36"/><line x1="157.9" y1="324.76" x2="157.9" y2="329.96"/><line x1="177.6" y1="324.76" x2="177.6" y2="329.96"/></g>
<rect x="165.4" y="325.06" width="4.6" height="4.6" fill="#a69383"/>
<text transform="translate(241,330.11) scale(1,1.03)" font-size="9.2" fill="#050505" stroke="#050505" stroke-width="0.18">pH</text>
<g stroke="#9c99bc" stroke-width="1.4"><line x1="170.4" y1="338.06" x2="189" y2="338.06"/><line x1="170.4" y1="335.46" x2="170.4" y2="340.66"/><line x1="189" y1="335.46" x2="189" y2="340.66"/></g>
<rect x="177.2" y="335.76" width="4.6" height="4.6" fill="#9c99bc"/>
<text transform="translate(241,340.81) scale(1,1.03)" font-size="9.2" fill="#050505" stroke="#050505" stroke-width="0.18">Bacteria<tspan font-size="5.8" dy="1.9">Shannon</tspan></text>
<g stroke="#9c99bc" stroke-width="1.4"><line x1="153" y1="348.76" x2="175.5" y2="348.76"/><line x1="153" y1="346.16" x2="153" y2="351.36"/><line x1="175.5" y1="346.16" x2="175.5" y2="351.36"/></g>
<rect x="161.9" y="346.46" width="4.6" height="4.6" fill="#9c99bc"/>
<text transform="translate(241,351.51) scale(1,1.03)" font-size="9.2" fill="#050505" stroke="#050505" stroke-width="0.18">Bacteria<tspan font-size="5.8" dy="1.9">PCoA2</tspan></text>
<g stroke="#d9d8ed" stroke-width="1.4"><line x1="166.5" y1="359.46" x2="187.2" y2="359.46"/><line x1="166.5" y1="356.86" x2="166.5" y2="362.06"/><line x1="187.2" y1="356.86" x2="187.2" y2="362.06"/></g>
<rect x="174.4" y="357.16" width="4.6" height="4.6" fill="#d9d8ed"/>
<text transform="translate(241,362.21) scale(1,1.03)" font-size="9.2" fill="#050505" stroke="#050505" stroke-width="0.18">Fungi<tspan font-size="5.8" dy="1.9">Shannon</tspan></text>
<g stroke="#d9d8ed" stroke-width="1.4"><line x1="157.4" y1="370.16" x2="190.7" y2="370.16"/><line x1="157.4" y1="367.56" x2="157.4" y2="372.76"/><line x1="190.7" y1="367.56" x2="190.7" y2="372.76"/></g>
<rect x="171.8" y="367.86" width="4.6" height="4.6" fill="#d9d8ed"/>
<text transform="translate(241,372.91) scale(1,1.03)" font-size="9.2" fill="#050505" stroke="#050505" stroke-width="0.18">Fungi<tspan font-size="5.8" dy="1.9">PCoA1</tspan></text>
<g stroke="#c27d7a" stroke-width="1.4"><line x1="142" y1="380.86" x2="179.3" y2="380.86"/><line x1="142" y1="378.26" x2="142" y2="383.46"/><line x1="179.3" y1="378.26" x2="179.3" y2="383.46"/></g>
<rect x="158.3" y="378.56" width="4.6" height="4.6" fill="#c27d7a"/>
<text transform="translate(241,383.61) scale(1,1.03)" font-size="9.2" fill="#050505" stroke="#050505" stroke-width="0.18">CCGs<tspan font-size="5.8" dy="1.9">PCoA2</tspan></text>
<g stroke="#c27d7a" stroke-width="1.4"><line x1="163.5" y1="391.56" x2="202.4" y2="391.56"/><line x1="163.5" y1="388.96" x2="163.5" y2="394.16"/><line x1="202.4" y1="388.96" x2="202.4" y2="394.16"/></g>
<rect x="180.7" y="389.26" width="4.6" height="4.6" fill="#c27d7a"/>
<text transform="translate(241,394.31) scale(1,1.03)" font-size="9.2" fill="#050505" stroke="#050505" stroke-width="0.18">NCGs<tspan font-size="5.8" dy="1.9">Shannon</tspan></text>
<g stroke="#c27d7a" stroke-width="1.4"><line x1="173.7" y1="402.26" x2="203.5" y2="402.26"/><line x1="173.7" y1="399.66" x2="173.7" y2="404.86"/><line x1="203.5" y1="399.66" x2="203.5" y2="404.86"/></g>
<rect x="186.1" y="399.96" width="4.6" height="4.6" fill="#c27d7a"/>
<text transform="translate(207.1,405.76) scale(1,1.0)" font-size="7.1" fill="#111" stroke="#111" stroke-width="0.15" letter-spacing="1.25">*</text>
<text transform="translate(241,405.01) scale(1,1.03)" font-size="9.2" fill="#050505" stroke="#050505" stroke-width="0.18">PCGs<tspan font-size="5.8" dy="1.9">PCoA1</tspan></text>
<g stroke="#f1c3bd" stroke-width="1.4"><line x1="180.7" y1="412.97" x2="204.7" y2="412.97"/><line x1="180.7" y1="410.37" x2="180.7" y2="415.57"/><line x1="204.7" y1="410.37" x2="204.7" y2="415.57"/></g>
<rect x="190.1" y="410.67" width="4.6" height="4.6" fill="#f1c3bd"/>
<text transform="translate(207.5,416.47) scale(1,1.0)" font-size="7.1" fill="#111" stroke="#111" stroke-width="0.15" letter-spacing="1.25">***</text>
<text transform="translate(241,415.72) scale(1,1.03)" font-size="9.2" fill="#050505" stroke="#050505" stroke-width="0.18" textLength="78.2" lengthAdjust="spacingAndGlyphs">Microbial biomass<tspan font-size="5.8" dy="1.9">PC1</tspan></text>
<g stroke="#f1c3bd" stroke-width="1.4"><line x1="180.7" y1="423.67" x2="207.7" y2="423.67"/><line x1="180.7" y1="421.07" x2="180.7" y2="426.27"/><line x1="207.7" y1="421.07" x2="207.7" y2="426.27"/></g>
<rect x="191.9" y="421.37" width="4.6" height="4.6" fill="#f1c3bd"/>
<text transform="translate(210.6,427.17) scale(1,1.0)" font-size="7.1" fill="#111" stroke="#111" stroke-width="0.15" letter-spacing="1.25">**</text>
<text transform="translate(241,426.42) scale(1,1.03)" font-size="9.2" fill="#050505" stroke="#050505" stroke-width="0.18" textLength="78.2" lengthAdjust="spacingAndGlyphs">Microbial biomass<tspan font-size="5.8" dy="1.9">PC2</tspan></text>
<line x1="171.7" y1="250.05" x2="171.7" y2="430.4" stroke="#555" stroke-width="0.9" stroke-dasharray="4.4,4.85"/>
<line x1="131.1" y1="430.4" x2="230.3" y2="430.4" stroke="#222" stroke-width="1.2"/>
<line x1="144.4" y1="430.4" x2="144.4" y2="434.7" stroke="#222" stroke-width="1.2"/>
<text transform="translate(144.4,445) scale(1,1.1)" font-size="8.9" text-anchor="middle" fill="#050505" stroke="#050505" stroke-width="0.18">-0.5</text>
<line x1="171.7" y1="430.4" x2="171.7" y2="434.7" stroke="#222" stroke-width="1.2"/>
<text transform="translate(171.7,445) scale(1,1.1)" font-size="8.9" text-anchor="middle" fill="#050505" stroke="#050505" stroke-width="0.18">0.0</text>
<line x1="199" y1="430.4" x2="199" y2="434.7" stroke="#222" stroke-width="1.2"/>
<text transform="translate(199,445) scale(1,1.1)" font-size="8.9" text-anchor="middle" fill="#050505" stroke="#050505" stroke-width="0.18">0.5</text>
<line x1="226.1" y1="430.4" x2="226.1" y2="434.7" stroke="#222" stroke-width="1.2"/>
<text transform="translate(226.1,445) scale(1,1.1)" font-size="8.9" text-anchor="middle" fill="#050505" stroke="#050505" stroke-width="0.18">1.0</text>
<text transform="translate(181.3,458.6) scale(1,1.0)" font-size="10.7" text-anchor="middle" fill="#050505" stroke="#050505" stroke-width="0.18">Estimate</text>
<text transform="translate(364,251.2) scale(1,1.0)" font-size="12.0" font-weight="bold" fill="#111" stroke="#111" stroke-width="0.18">(d)</text>
<text transform="translate(433.6,241.9) scale(1,1.1)" font-size="9.2" text-anchor="middle" font-weight="bold" fill="#111" stroke="#111" stroke-width="0.18">SC:SN</text>
<line x1="404.2" y1="245.8" x2="404.2" y2="430.7" stroke="#222" stroke-width="1.2"/>
<line x1="399.9" y1="430.1" x2="404.2" y2="430.1" stroke="#222" stroke-width="1.2"/>
<text transform="translate(396.3,433.4) scale(1,1.1)" font-size="8.8" text-anchor="end" fill="#050505" stroke="#050505" stroke-width="0.18">0</text>
<line x1="399.9" y1="393.36" x2="404.2" y2="393.36" stroke="#222" stroke-width="1.2"/>
<text transform="translate(396.3,396.66) scale(1,1.1)" font-size="8.8" text-anchor="end" fill="#050505" stroke="#050505" stroke-width="0.18">20</text>
<line x1="399.9" y1="356.62" x2="404.2" y2="356.62" stroke="#222" stroke-width="1.2"/>
<text transform="translate(396.3,359.92) scale(1,1.1)" font-size="8.8" text-anchor="end" fill="#050505" stroke="#050505" stroke-width="0.18">40</text>
<line x1="399.9" y1="319.88" x2="404.2" y2="319.88" stroke="#222" stroke-width="1.2"/>
<text transform="translate(396.3,323.18) scale(1,1.1)" font-size="8.8" text-anchor="end" fill="#050505" stroke="#050505" stroke-width="0.18">60</text>
<line x1="399.9" y1="283.14" x2="404.2" y2="283.14" stroke="#222" stroke-width="1.2"/>
<text transform="translate(396.3,286.44) scale(1,1.1)" font-size="8.8" text-anchor="end" fill="#050505" stroke="#050505" stroke-width="0.18">80</text>
<line x1="399.9" y1="246.4" x2="404.2" y2="246.4" stroke="#222" stroke-width="1.2"/>
<text transform="translate(396.3,249.7) scale(1,1.1)" font-size="8.8" text-anchor="end" fill="#050505" stroke="#050505" stroke-width="0.18">100</text>
<text transform="translate(374.8,337.65) rotate(-90) scale(1,1.0)" font-size="10.9" text-anchor="middle" fill="#050505" stroke="#050505" stroke-width="0.18">Relative effect of estimates (%)</text>
<rect x="415.2" y="246.4" width="36.7" height="78.32" fill="#a2a4a2"/>
<text transform="translate(433.55,288.34) scale(1,1.05)" font-size="7.6" text-anchor="middle" fill="#1e1e1e" stroke="#1e1e1e" stroke-width="0">42.61%</text>
<rect x="415.2" y="324.67" width="36.7" height="19.32" fill="#80b396"/>
<text transform="translate(433.55,337.11) scale(1,1.05)" font-size="7.6" text-anchor="middle" fill="#1e1e1e" stroke="#1e1e1e" stroke-width="0">10.49%</text>
<rect x="415.2" y="343.94" width="36.7" height="17.34" fill="#a69383"/>
<text transform="translate(433.55,355.39) scale(1,1.05)" font-size="7.6" text-anchor="middle" fill="#1e1e1e" stroke="#1e1e1e" stroke-width="0">9.41%</text>
<rect x="415.2" y="361.23" width="36.7" height="1.41" fill="#9c99bc"/>
<rect x="415.2" y="362.59" width="36.7" height="23.47" fill="#d9d8ed"/>
<text transform="translate(433.55,377.1) scale(1,1.05)" font-size="7.6" text-anchor="middle" fill="#1e1e1e" stroke="#1e1e1e" stroke-width="0">12.75%</text>
<rect x="415.2" y="386.01" width="36.7" height="44.16" fill="#c27d7a"/>
<text transform="translate(433.55,410.87) scale(1,1.05)" font-size="7.6" text-anchor="middle" fill="#1e1e1e" stroke="#1e1e1e" stroke-width="0">24.01%</text>
<line x1="453.2" y1="361.8" x2="459.8" y2="361.8" stroke="#3a3a3a" stroke-width="1.0"/>
<text transform="translate(462,364.6) scale(1,1.1)" font-size="7.6" fill="#1a1a1a" stroke="#1a1a1a" stroke-width="0.06">0.74%</text>
<text transform="translate(413.5,444.9) scale(1,1.0)" font-size="8.7" fill="#050505" stroke="#050505" stroke-width="0.18"><tspan font-style="italic">R</tspan><tspan font-size="5.8" dy="1.7">m</tspan><tspan font-size="5.6" dy="-4.3">2</tspan><tspan dy="2.6"> = 0.32</tspan></text>
<text transform="translate(413.5,455.2) scale(1,1.0)" font-size="8.7" fill="#050505" stroke="#050505" stroke-width="0.18"><tspan font-style="italic">R</tspan><tspan font-size="5.8" dy="1.7">c</tspan><tspan font-size="5.6" dy="-4.3">2</tspan><tspan dy="2.6"> = 0.65</tspan></text>
<g stroke="#a2a4a2" stroke-width="1.4"><line x1="549.6" y1="252.59" x2="586.3" y2="252.59"/><line x1="549.6" y1="249.99" x2="549.6" y2="255.19"/><line x1="586.3" y1="249.99" x2="586.3" y2="255.19"/></g>
<rect x="565.3" y="250.29" width="4.6" height="4.6" fill="#a2a4a2"/>
<text transform="translate(590.2,256.09) scale(1,1.0)" font-size="7.1" fill="#111" stroke="#111" stroke-width="0.15" letter-spacing="1.25">*</text>
<text transform="translate(605.7,255.34) scale(1,1.03)" font-size="9.2" fill="#050505" stroke="#050505" stroke-width="0.18">dbMEM2</text>
<g stroke="#a2a4a2" stroke-width="1.4"><line x1="528.7" y1="263.29" x2="555.3" y2="263.29"/><line x1="528.7" y1="260.69" x2="528.7" y2="265.89"/><line x1="555.3" y1="260.69" x2="555.3" y2="265.89"/></g>
<rect x="539.4" y="260.99" width="4.6" height="4.6" fill="#a2a4a2"/>
<text transform="translate(605.7,266.04) scale(1,1.03)" font-size="9.2" fill="#050505" stroke="#050505" stroke-width="0.18">Slope</text>
<g stroke="#6f9fbe" stroke-width="1.4"><line x1="523.8" y1="273.99" x2="560.1" y2="273.99"/><line x1="523.8" y1="271.39" x2="523.8" y2="276.59"/><line x1="560.1" y1="271.39" x2="560.1" y2="276.59"/></g>
<rect x="539.4" y="271.69" width="4.6" height="4.6" fill="#6f9fbe"/>
<text transform="translate(605.7,276.74) scale(1,1.03)" font-size="9.2" fill="#050505" stroke="#050505" stroke-width="0.18">Climate<tspan font-size="5.8" dy="1.9">PC2</tspan></text>
<g stroke="#80b396" stroke-width="1.4"><line x1="510.1" y1="284.69" x2="543.4" y2="284.69"/><line x1="510.1" y1="282.09" x2="510.1" y2="287.29"/><line x1="543.4" y1="282.09" x2="543.4" y2="287.29"/></g>
<rect x="524.1" y="282.39" width="4.6" height="4.6" fill="#80b396"/>
<text transform="translate(605.7,287.44) scale(1,1.03)" font-size="9.2" fill="#050505" stroke="#050505" stroke-width="0.18">Plant<tspan font-size="5.8" dy="1.9">C</tspan></text>
<g stroke="#80b396" stroke-width="1.4"><line x1="532.2" y1="295.39" x2="564.1" y2="295.39"/><line x1="532.2" y1="292.79" x2="532.2" y2="297.99"/><line x1="564.1" y1="292.79" x2="564.1" y2="297.99"/></g>
<rect x="545.7" y="293.09" width="4.6" height="4.6" fill="#80b396"/>
<text transform="translate(605.7,298.14) scale(1,1.03)" font-size="9.2" fill="#050505" stroke="#050505" stroke-width="0.18">Plant<tspan font-size="5.8" dy="1.9">D</tspan></text>
<g stroke="#e6a27b" stroke-width="1.4"><line x1="534" y1="306.08" x2="554.8" y2="306.08"/><line x1="534" y1="303.48" x2="534" y2="308.69"/><line x1="554.8" y1="303.48" x2="554.8" y2="308.69"/></g>
<rect x="542.2" y="303.78" width="4.6" height="4.6" fill="#e6a27b"/>
<text transform="translate(605.7,308.83) scale(1,1.03)" font-size="9.2" fill="#050505" stroke="#050505" stroke-width="0.18">Litter<tspan font-size="5.8" dy="1.9">PC1</tspan></text>
<g stroke="#e6a27b" stroke-width="1.4"><line x1="535.2" y1="316.78" x2="561.1" y2="316.78"/><line x1="535.2" y1="314.18" x2="535.2" y2="319.38"/><line x1="561.1" y1="314.18" x2="561.1" y2="319.38"/></g>
<rect x="545.7" y="314.48" width="4.6" height="4.6" fill="#e6a27b"/>
<text transform="translate(605.7,319.53) scale(1,1.03)" font-size="9.2" fill="#050505" stroke="#050505" stroke-width="0.18">Litter<tspan font-size="5.8" dy="1.9">PC2</tspan></text>
<g stroke="#a69383" stroke-width="1.4"><line x1="530.5" y1="327.48" x2="570.6" y2="327.48"/><line x1="530.5" y1="324.88" x2="530.5" y2="330.08"/><line x1="570.6" y1="324.88" x2="570.6" y2="330.08"/></g>
<rect x="548.1" y="325.18" width="4.6" height="4.6" fill="#a69383"/>
<text transform="translate(605.7,330.23) scale(1,1.03)" font-size="9.2" fill="#050505" stroke="#050505" stroke-width="0.18">SM</text>
<g stroke="#a69383" stroke-width="1.4"><line x1="534.8" y1="338.18" x2="556.2" y2="338.18"/><line x1="534.8" y1="335.58" x2="534.8" y2="340.78"/><line x1="556.2" y1="335.58" x2="556.2" y2="340.78"/></g>
<rect x="543" y="335.88" width="4.6" height="4.6" fill="#a69383"/>
<text transform="translate(605.7,340.93) scale(1,1.03)" font-size="9.2" fill="#050505" stroke="#050505" stroke-width="0.18">pH</text>
<g stroke="#9c99bc" stroke-width="1.4"><line x1="529.6" y1="348.88" x2="551" y2="348.88"/><line x1="529.6" y1="346.28" x2="529.6" y2="351.48"/><line x1="551" y1="346.28" x2="551" y2="351.48"/></g>
<rect x="537.8" y="346.58" width="4.6" height="4.6" fill="#9c99bc"/>
<text transform="translate(605.7,351.63) scale(1,1.03)" font-size="9.2" fill="#050505" stroke="#050505" stroke-width="0.18">Bacteria<tspan font-size="5.8" dy="1.9">Shannon</tspan></text>
<g stroke="#9c99bc" stroke-width="1.4"><line x1="532.2" y1="359.58" x2="556.6" y2="359.58"/><line x1="532.2" y1="356.98" x2="532.2" y2="362.18"/><line x1="556.6" y1="356.98" x2="556.6" y2="362.18"/></g>
<rect x="542.2" y="357.28" width="4.6" height="4.6" fill="#9c99bc"/>
<text transform="translate(605.7,362.33) scale(1,1.03)" font-size="9.2" fill="#050505" stroke="#050505" stroke-width="0.18">Bacteria<tspan font-size="5.8" dy="1.9">PCoA2</tspan></text>
<g stroke="#d9d8ed" stroke-width="1.4"><line x1="505.4" y1="370.28" x2="540.4" y2="370.28"/><line x1="505.4" y1="367.68" x2="505.4" y2="372.88"/><line x1="540.4" y1="367.68" x2="540.4" y2="372.88"/></g>
<rect x="520.6" y="367.98" width="4.6" height="4.6" fill="#d9d8ed"/>
<text transform="translate(500.8,373.78) scale(1,1.0)" font-size="7.1" fill="#111" stroke="#111" stroke-width="0.15" letter-spacing="1.25">*</text>
<text transform="translate(605.7,373.03) scale(1,1.03)" font-size="9.2" fill="#050505" stroke="#050505" stroke-width="0.18">Fungi<tspan font-size="5.8" dy="1.9">PCoA1</tspan></text>
<g stroke="#c27d7a" stroke-width="1.4"><line x1="527.7" y1="380.98" x2="556.2" y2="380.98"/><line x1="527.7" y1="378.38" x2="527.7" y2="383.58"/><line x1="556.2" y1="378.38" x2="556.2" y2="383.58"/></g>
<rect x="539.9" y="378.68" width="4.6" height="4.6" fill="#c27d7a"/>
<text transform="translate(605.7,383.73) scale(1,1.03)" font-size="9.2" fill="#050505" stroke="#050505" stroke-width="0.18">CCGs<tspan font-size="5.8" dy="1.9">Shannon</tspan></text>
<g stroke="#c27d7a" stroke-width="1.4"><line x1="522.4" y1="391.68" x2="557.4" y2="391.68"/><line x1="522.4" y1="389.08" x2="522.4" y2="394.28"/><line x1="557.4" y1="389.08" x2="557.4" y2="394.28"/></g>
<rect x="537.6" y="389.38" width="4.6" height="4.6" fill="#c27d7a"/>
<text transform="translate(605.7,394.43) scale(1,1.03)" font-size="9.2" fill="#050505" stroke="#050505" stroke-width="0.18">NCGs<tspan font-size="5.8" dy="1.9">Shannon</tspan></text>
<g stroke="#c27d7a" stroke-width="1.4"><line x1="505.4" y1="402.38" x2="543.9" y2="402.38"/><line x1="505.4" y1="399.78" x2="505.4" y2="404.98"/><line x1="543.9" y1="399.78" x2="543.9" y2="404.98"/></g>
<rect x="522" y="400.08" width="4.6" height="4.6" fill="#c27d7a"/>
<text transform="translate(605.7,405.13) scale(1,1.03)" font-size="9.2" fill="#050505" stroke="#050505" stroke-width="0.18">PCGs<tspan font-size="5.8" dy="1.9">PCoA1</tspan></text>
<g stroke="#f1c3bd" stroke-width="1.4"><line x1="527" y1="413.07" x2="551.8" y2="413.07"/><line x1="527" y1="410.47" x2="527" y2="415.68"/><line x1="551.8" y1="410.47" x2="551.8" y2="415.68"/></g>
<rect x="536.9" y="410.77" width="4.6" height="4.6" fill="#f1c3bd"/>
<text transform="translate(605.7,415.82) scale(1,1.03)" font-size="9.2" fill="#050505" stroke="#050505" stroke-width="0.18" textLength="78.2" lengthAdjust="spacingAndGlyphs">Microbial biomass<tspan font-size="5.8" dy="1.9">PC1</tspan></text>
<g stroke="#f1c3bd" stroke-width="1.4"><line x1="529.1" y1="423.77" x2="557.1" y2="423.77"/><line x1="529.1" y1="421.17" x2="529.1" y2="426.37"/><line x1="557.1" y1="421.17" x2="557.1" y2="426.37"/></g>
<rect x="540.8" y="421.47" width="4.6" height="4.6" fill="#f1c3bd"/>
<text transform="translate(605.7,426.52) scale(1,1.03)" font-size="9.2" fill="#050505" stroke="#050505" stroke-width="0.18" textLength="78.2" lengthAdjust="spacingAndGlyphs">Microbial biomass<tspan font-size="5.8" dy="1.9">PC2</tspan></text>
<line x1="542.7" y1="250.19" x2="542.7" y2="430.2" stroke="#555" stroke-width="0.9" stroke-dasharray="4.4,4.85"/>
<line x1="496.1" y1="430.2" x2="595.6" y2="430.2" stroke="#222" stroke-width="1.2"/>
<line x1="518.9" y1="430.2" x2="518.9" y2="434.5" stroke="#222" stroke-width="1.2"/>
<text transform="translate(518.9,444.8) scale(1,1.1)" font-size="8.9" text-anchor="middle" fill="#050505" stroke="#050505" stroke-width="0.18">-0.5</text>
<line x1="542.7" y1="430.2" x2="542.7" y2="434.5" stroke="#222" stroke-width="1.2"/>
<text transform="translate(542.7,444.8) scale(1,1.1)" font-size="8.9" text-anchor="middle" fill="#050505" stroke="#050505" stroke-width="0.18">0.0</text>
<line x1="566.7" y1="430.2" x2="566.7" y2="434.5" stroke="#222" stroke-width="1.2"/>
<text transform="translate(566.7,444.8) scale(1,1.1)" font-size="8.9" text-anchor="middle" fill="#050505" stroke="#050505" stroke-width="0.18">0.5</text>
<line x1="590.7" y1="430.2" x2="590.7" y2="434.5" stroke="#222" stroke-width="1.2"/>
<text transform="translate(590.7,444.8) scale(1,1.1)" font-size="8.9" text-anchor="middle" fill="#050505" stroke="#050505" stroke-width="0.18">1.0</text>
<text transform="translate(546,458.4) scale(1,1.0)" font-size="10.7" text-anchor="middle" fill="#050505" stroke="#050505" stroke-width="0.18">Estimate</text>
<text transform="translate(-0.6,486.4) scale(1,1.0)" font-size="12.0" font-weight="bold" fill="#111" stroke="#111" stroke-width="0.18">(e)</text>
<text transform="translate(68.7,476.5) scale(1,1.1)" font-size="9.2" text-anchor="middle" font-weight="bold" fill="#111" stroke="#111" stroke-width="0.18">SC:SP</text>
<line x1="39.3" y1="480.3" x2="39.3" y2="665.3" stroke="#222" stroke-width="1.2"/>
<line x1="35" y1="664.7" x2="39.3" y2="664.7" stroke="#222" stroke-width="1.2"/>
<text transform="translate(31.4,668) scale(1,1.1)" font-size="8.8" text-anchor="end" fill="#050505" stroke="#050505" stroke-width="0.18">0</text>
<line x1="35" y1="627.94" x2="39.3" y2="627.94" stroke="#222" stroke-width="1.2"/>
<text transform="translate(31.4,631.24) scale(1,1.1)" font-size="8.8" text-anchor="end" fill="#050505" stroke="#050505" stroke-width="0.18">20</text>
<line x1="35" y1="591.18" x2="39.3" y2="591.18" stroke="#222" stroke-width="1.2"/>
<text transform="translate(31.4,594.48) scale(1,1.1)" font-size="8.8" text-anchor="end" fill="#050505" stroke="#050505" stroke-width="0.18">40</text>
<line x1="35" y1="554.42" x2="39.3" y2="554.42" stroke="#222" stroke-width="1.2"/>
<text transform="translate(31.4,557.72) scale(1,1.1)" font-size="8.8" text-anchor="end" fill="#050505" stroke="#050505" stroke-width="0.18">60</text>
<line x1="35" y1="517.66" x2="39.3" y2="517.66" stroke="#222" stroke-width="1.2"/>
<text transform="translate(31.4,520.96) scale(1,1.1)" font-size="8.8" text-anchor="end" fill="#050505" stroke="#050505" stroke-width="0.18">80</text>
<line x1="35" y1="480.9" x2="39.3" y2="480.9" stroke="#222" stroke-width="1.2"/>
<text transform="translate(31.4,484.2) scale(1,1.1)" font-size="8.8" text-anchor="end" fill="#050505" stroke="#050505" stroke-width="0.18">100</text>
<text transform="translate(9.9,572.2) rotate(-90) scale(1,1.0)" font-size="10.9" text-anchor="middle" fill="#050505" stroke="#050505" stroke-width="0.18">Relative effect of estimates (%)</text>
<rect x="50.1" y="480.9" width="36.8" height="1.35" fill="#a2a4a2"/>
<rect x="50.1" y="482.2" width="36.8" height="5.03" fill="#80b396"/>
<rect x="50.1" y="487.19" width="36.8" height="2.44" fill="#e6a27b"/>
<rect x="50.1" y="489.58" width="36.8" height="117.87" fill="#a69383"/>
<text transform="translate(68.5,551.28) scale(1,1.05)" font-size="7.6" text-anchor="middle" fill="#1e1e1e" stroke="#1e1e1e" stroke-width="0">64.10%</text>
<rect x="50.1" y="607.39" width="36.8" height="55.39" fill="#c27d7a"/>
<text transform="translate(68.5,637.86) scale(1,1.05)" font-size="7.6" text-anchor="middle" fill="#1e1e1e" stroke="#1e1e1e" stroke-width="0">30.11%</text>
<rect x="50.1" y="662.73" width="36.8" height="2" fill="#f1c3bd"/>
<polyline points="89.1,481.5 91.7,478.6 96.6,478.6" fill="none" stroke="#3a3a3a" stroke-width="1.0"/>
<text transform="translate(98.8,481.4) scale(1,1.1)" font-size="7.6" fill="#1a1a1a" stroke="#1a1a1a" stroke-width="0.06">0.71%</text>
<line x1="89.1" y1="485" x2="96.6" y2="485" stroke="#3a3a3a" stroke-width="1.0"/>
<text transform="translate(98.8,487.8) scale(1,1.1)" font-size="7.6" fill="#1a1a1a" stroke="#1a1a1a" stroke-width="0.06">2.71%</text>
<polyline points="89.1,489 91.7,491.8 96.6,491.8" fill="none" stroke="#3a3a3a" stroke-width="1.0"/>
<text transform="translate(98.8,494.6) scale(1,1.1)" font-size="7.6" fill="#1a1a1a" stroke="#1a1a1a" stroke-width="0.06">1.30%</text>
<line x1="89.1" y1="664" x2="96.6" y2="664" stroke="#3a3a3a" stroke-width="1.0"/>
<text transform="translate(98.8,666.8) scale(1,1.1)" font-size="7.6" fill="#1a1a1a" stroke="#1a1a1a" stroke-width="0.06">1.06%</text>
<text transform="translate(48.9,679.2) scale(1,1.0)" font-size="8.7" fill="#050505" stroke="#050505" stroke-width="0.18"><tspan font-style="italic">R</tspan><tspan font-size="5.8" dy="1.7">m</tspan><tspan font-size="5.6" dy="-4.3">2</tspan><tspan dy="2.6"> = 0.74</tspan></text>
<text transform="translate(48.9,689.6) scale(1,1.0)" font-size="8.7" fill="#050505" stroke="#050505" stroke-width="0.18"><tspan font-style="italic">R</tspan><tspan font-size="5.8" dy="1.7">c</tspan><tspan font-size="5.6" dy="-4.3">2</tspan><tspan dy="2.6"> = 0.89</tspan></text>
<g stroke="#a2a4a2" stroke-width="1.4"><line x1="158.9" y1="487.39" x2="174.7" y2="487.39"/><line x1="158.9" y1="484.79" x2="158.9" y2="489.99"/><line x1="174.7" y1="484.79" x2="174.7" y2="489.99"/></g>
<rect x="164.5" y="485.09" width="4.6" height="4.6" fill="#a2a4a2"/>
<text transform="translate(240.9,490.14) scale(1,1.03)" font-size="9.2" fill="#050505" stroke="#050505" stroke-width="0.18">Aspect<tspan font-size="5.8" dy="1.9">N</tspan></text>
<g stroke="#6f9fbe" stroke-width="1.4"><line x1="154.5" y1="498.08" x2="179.9" y2="498.08"/><line x1="154.5" y1="495.48" x2="154.5" y2="500.69"/><line x1="179.9" y1="495.48" x2="179.9" y2="500.69"/></g>
<rect x="164.7" y="495.78" width="4.6" height="4.6" fill="#6f9fbe"/>
<text transform="translate(240.9,500.83) scale(1,1.03)" font-size="9.2" fill="#050505" stroke="#050505" stroke-width="0.18">Climate<tspan font-size="5.8" dy="1.9">PC2</tspan></text>
<g stroke="#80b396" stroke-width="1.4"><line x1="148" y1="508.78" x2="172.6" y2="508.78"/><line x1="148" y1="506.18" x2="148" y2="511.38"/><line x1="172.6" y1="506.18" x2="172.6" y2="511.38"/></g>
<rect x="158" y="506.48" width="4.6" height="4.6" fill="#80b396"/>
<text transform="translate(240.9,511.53) scale(1,1.03)" font-size="9.2" fill="#050505" stroke="#050505" stroke-width="0.18">Plant<tspan font-size="5.8" dy="1.9">C</tspan></text>
<g stroke="#80b396" stroke-width="1.4"><line x1="156.3" y1="519.48" x2="177.3" y2="519.48"/><line x1="156.3" y1="516.88" x2="156.3" y2="522.08"/><line x1="177.3" y1="516.88" x2="177.3" y2="522.08"/></g>
<rect x="164.1" y="517.18" width="4.6" height="4.6" fill="#80b396"/>
<text transform="translate(240.9,522.23) scale(1,1.03)" font-size="9.2" fill="#050505" stroke="#050505" stroke-width="0.18">Plant<tspan font-size="5.8" dy="1.9">D</tspan></text>
<g stroke="#e6a27b" stroke-width="1.4"><line x1="170.3" y1="530.17" x2="183.4" y2="530.17"/><line x1="170.3" y1="527.57" x2="170.3" y2="532.77"/><line x1="183.4" y1="527.57" x2="183.4" y2="532.77"/></g>
<rect x="174.3" y="527.87" width="4.6" height="4.6" fill="#e6a27b"/>
<text transform="translate(240.9,532.92) scale(1,1.03)" font-size="9.2" fill="#050505" stroke="#050505" stroke-width="0.18">Litter<tspan font-size="5.8" dy="1.9">PC1</tspan></text>
<g stroke="#e6a27b" stroke-width="1.4"><line x1="170.5" y1="540.87" x2="186.9" y2="540.87"/><line x1="170.5" y1="538.26" x2="170.5" y2="543.47"/><line x1="186.9" y1="538.26" x2="186.9" y2="543.47"/></g>
<rect x="176.4" y="538.57" width="4.6" height="4.6" fill="#e6a27b"/>
<text transform="translate(240.9,543.62) scale(1,1.03)" font-size="9.2" fill="#050505" stroke="#050505" stroke-width="0.18">Litter<tspan font-size="5.8" dy="1.9">PC2</tspan></text>
<g stroke="#a69383" stroke-width="1.4"><line x1="191.8" y1="551.56" x2="219.5" y2="551.56"/><line x1="191.8" y1="548.96" x2="191.8" y2="554.16"/><line x1="219.5" y1="548.96" x2="219.5" y2="554.16"/></g>
<rect x="203.2" y="549.26" width="4.6" height="4.6" fill="#a69383"/>
<text transform="translate(223.2,555.06) scale(1,1.0)" font-size="7.1" fill="#111" stroke="#111" stroke-width="0.15" letter-spacing="1.25">***</text>
<text transform="translate(240.9,554.31) scale(1,1.03)" font-size="9.2" fill="#050505" stroke="#050505" stroke-width="0.18">SM</text>
<g stroke="#a69383" stroke-width="1.4"><line x1="167.7" y1="562.25" x2="181.7" y2="562.25"/><line x1="167.7" y1="559.65" x2="167.7" y2="564.86"/><line x1="181.7" y1="559.65" x2="181.7" y2="564.86"/></g>
<rect x="172.4" y="559.96" width="4.6" height="4.6" fill="#a69383"/>
<text transform="translate(240.9,565) scale(1,1.03)" font-size="9.2" fill="#050505" stroke="#050505" stroke-width="0.18">pH</text>
<g stroke="#9c99bc" stroke-width="1.4"><line x1="160.3" y1="572.95" x2="173.4" y2="572.95"/><line x1="160.3" y1="570.35" x2="160.3" y2="575.55"/><line x1="173.4" y1="570.35" x2="173.4" y2="575.55"/></g>
<rect x="164.5" y="570.65" width="4.6" height="4.6" fill="#9c99bc"/>
<text transform="translate(240.9,575.7) scale(1,1.03)" font-size="9.2" fill="#050505" stroke="#050505" stroke-width="0.18">Bacteria<tspan font-size="5.8" dy="1.9">Shannon</tspan></text>
<g stroke="#9c99bc" stroke-width="1.4"><line x1="163.4" y1="583.64" x2="179.9" y2="583.64"/><line x1="163.4" y1="581.04" x2="163.4" y2="586.25"/><line x1="179.9" y1="581.04" x2="179.9" y2="586.25"/></g>
<rect x="169.4" y="581.35" width="4.6" height="4.6" fill="#9c99bc"/>
<text transform="translate(240.9,586.39) scale(1,1.03)" font-size="9.2" fill="#050505" stroke="#050505" stroke-width="0.18">Bacteria<tspan font-size="5.8" dy="1.9">PCoA2</tspan></text>
<g stroke="#d9d8ed" stroke-width="1.4"><line x1="167.3" y1="594.34" x2="182.2" y2="594.34"/><line x1="167.3" y1="591.74" x2="167.3" y2="596.94"/><line x1="182.2" y1="591.74" x2="182.2" y2="596.94"/></g>
<rect x="172.4" y="592.04" width="4.6" height="4.6" fill="#d9d8ed"/>
<text transform="translate(240.9,597.09) scale(1,1.03)" font-size="9.2" fill="#050505" stroke="#050505" stroke-width="0.18">Fungi<tspan font-size="5.8" dy="1.9">Shannon</tspan></text>
<g stroke="#d9d8ed" stroke-width="1.4"><line x1="155.4" y1="605.03" x2="178.3" y2="605.03"/><line x1="155.4" y1="602.43" x2="155.4" y2="607.63"/><line x1="178.3" y1="602.43" x2="178.3" y2="607.63"/></g>
<rect x="164.3" y="602.74" width="4.6" height="4.6" fill="#d9d8ed"/>
<text transform="translate(240.9,607.78) scale(1,1.03)" font-size="9.2" fill="#050505" stroke="#050505" stroke-width="0.18">Fungi<tspan font-size="5.8" dy="1.9">PCoA1</tspan></text>
<g stroke="#c27d7a" stroke-width="1.4"><line x1="142.4" y1="615.73" x2="162" y2="615.73"/><line x1="142.4" y1="613.13" x2="142.4" y2="618.33"/><line x1="162" y1="613.13" x2="162" y2="618.33"/></g>
<rect x="149.8" y="613.43" width="4.6" height="4.6" fill="#c27d7a"/>
<text transform="translate(129.4,619.23) scale(1,1.0)" font-size="7.1" fill="#111" stroke="#111" stroke-width="0.15" letter-spacing="1.25">***</text>
<text transform="translate(240.9,618.48) scale(1,1.03)" font-size="9.2" fill="#050505" stroke="#050505" stroke-width="0.18">CCGs<tspan font-size="5.8" dy="1.9">PCoA1</tspan></text>
<g stroke="#c27d7a" stroke-width="1.4"><line x1="166.4" y1="626.42" x2="190.6" y2="626.42"/><line x1="166.4" y1="623.82" x2="166.4" y2="629.02"/><line x1="190.6" y1="623.82" x2="190.6" y2="629.02"/></g>
<rect x="176" y="624.12" width="4.6" height="4.6" fill="#c27d7a"/>
<text transform="translate(240.9,629.17) scale(1,1.03)" font-size="9.2" fill="#050505" stroke="#050505" stroke-width="0.18">NCGs<tspan font-size="5.8" dy="1.9">Shannon</tspan></text>
<g stroke="#c27d7a" stroke-width="1.4"><line x1="179.6" y1="637.12" x2="203.2" y2="637.12"/><line x1="179.6" y1="634.52" x2="179.6" y2="639.72"/><line x1="203.2" y1="634.52" x2="203.2" y2="639.72"/></g>
<rect x="189" y="634.82" width="4.6" height="4.6" fill="#c27d7a"/>
<text transform="translate(205.6,640.62) scale(1,1.0)" font-size="7.1" fill="#111" stroke="#111" stroke-width="0.15" letter-spacing="1.25">**</text>
<text transform="translate(240.9,639.87) scale(1,1.03)" font-size="9.2" fill="#050505" stroke="#050505" stroke-width="0.18">PCGs<tspan font-size="5.8" dy="1.9">PCoA2</tspan></text>
<g stroke="#f1c3bd" stroke-width="1.4"><line x1="151.9" y1="647.82" x2="168.2" y2="647.82"/><line x1="151.9" y1="645.22" x2="151.9" y2="650.42"/><line x1="168.2" y1="645.22" x2="168.2" y2="650.42"/></g>
<rect x="157.7" y="645.52" width="4.6" height="4.6" fill="#f1c3bd"/>
<text transform="translate(142.6,651.32) scale(1,1.0)" font-size="7.1" fill="#111" stroke="#111" stroke-width="0.15" letter-spacing="1.25">**</text>
<text transform="translate(240.9,650.57) scale(1,1.03)" font-size="9.2" fill="#050505" stroke="#050505" stroke-width="0.18" textLength="78.2" lengthAdjust="spacingAndGlyphs">Microbial biomass<tspan font-size="5.8" dy="1.9">PC1</tspan></text>
<g stroke="#f1c3bd" stroke-width="1.4"><line x1="156.4" y1="658.51" x2="174.8" y2="658.51"/><line x1="156.4" y1="655.91" x2="156.4" y2="661.11"/><line x1="174.8" y1="655.91" x2="174.8" y2="661.11"/></g>
<rect x="163.2" y="656.21" width="4.6" height="4.6" fill="#f1c3bd"/>
<text transform="translate(240.9,661.26) scale(1,1.03)" font-size="9.2" fill="#050505" stroke="#050505" stroke-width="0.18" textLength="78.2" lengthAdjust="spacingAndGlyphs">Microbial biomass<tspan font-size="5.8" dy="1.9">PC2</tspan></text>
<line x1="172.2" y1="484.99" x2="172.2" y2="665.2" stroke="#555" stroke-width="0.9" stroke-dasharray="4.4,4.85"/>
<line x1="131.4" y1="665.2" x2="230.7" y2="665.2" stroke="#222" stroke-width="1.2"/>
<line x1="143.1" y1="665.2" x2="143.1" y2="669.5" stroke="#222" stroke-width="1.2"/>
<text transform="translate(143.1,679.8) scale(1,1.1)" font-size="8.9" text-anchor="middle" fill="#050505" stroke="#050505" stroke-width="0.18">-0.5</text>
<line x1="172.2" y1="665.2" x2="172.2" y2="669.5" stroke="#222" stroke-width="1.2"/>
<text transform="translate(172.2,679.8) scale(1,1.1)" font-size="8.9" text-anchor="middle" fill="#050505" stroke="#050505" stroke-width="0.18">0.0</text>
<line x1="201.1" y1="665.2" x2="201.1" y2="669.5" stroke="#222" stroke-width="1.2"/>
<text transform="translate(201.1,679.8) scale(1,1.1)" font-size="8.9" text-anchor="middle" fill="#050505" stroke="#050505" stroke-width="0.18">0.5</text>
<line x1="230.2" y1="665.2" x2="230.2" y2="669.5" stroke="#222" stroke-width="1.2"/>
<text transform="translate(230.2,679.8) scale(1,1.1)" font-size="8.9" text-anchor="middle" fill="#050505" stroke="#050505" stroke-width="0.18">1.0</text>
<text transform="translate(180.7,693.4) scale(1,1.0)" font-size="10.7" text-anchor="middle" fill="#050505" stroke="#050505" stroke-width="0.18">Estimate</text>
<text transform="translate(365.5,486.8) scale(1,1.0)" font-size="12.0" font-weight="bold" fill="#111" stroke="#111" stroke-width="0.18">(f)</text>
<text transform="translate(433.6,476.4) scale(1,1.1)" font-size="9.2" text-anchor="middle" font-weight="bold" fill="#111" stroke="#111" stroke-width="0.18">SN:SP</text>
<line x1="404.2" y1="480.7" x2="404.2" y2="665.4" stroke="#222" stroke-width="1.2"/>
<line x1="399.9" y1="664.8" x2="404.2" y2="664.8" stroke="#222" stroke-width="1.2"/>
<text transform="translate(396.3,668.1) scale(1,1.1)" font-size="8.8" text-anchor="end" fill="#050505" stroke="#050505" stroke-width="0.18">0</text>
<line x1="399.9" y1="628.1" x2="404.2" y2="628.1" stroke="#222" stroke-width="1.2"/>
<text transform="translate(396.3,631.4) scale(1,1.1)" font-size="8.8" text-anchor="end" fill="#050505" stroke="#050505" stroke-width="0.18">20</text>
<line x1="399.9" y1="591.4" x2="404.2" y2="591.4" stroke="#222" stroke-width="1.2"/>
<text transform="translate(396.3,594.7) scale(1,1.1)" font-size="8.8" text-anchor="end" fill="#050505" stroke="#050505" stroke-width="0.18">40</text>
<line x1="399.9" y1="554.7" x2="404.2" y2="554.7" stroke="#222" stroke-width="1.2"/>
<text transform="translate(396.3,558) scale(1,1.1)" font-size="8.8" text-anchor="end" fill="#050505" stroke="#050505" stroke-width="0.18">60</text>
<line x1="399.9" y1="518" x2="404.2" y2="518" stroke="#222" stroke-width="1.2"/>
<text transform="translate(396.3,521.3) scale(1,1.1)" font-size="8.8" text-anchor="end" fill="#050505" stroke="#050505" stroke-width="0.18">80</text>
<line x1="399.9" y1="481.3" x2="404.2" y2="481.3" stroke="#222" stroke-width="1.2"/>
<text transform="translate(396.3,484.6) scale(1,1.1)" font-size="8.8" text-anchor="end" fill="#050505" stroke="#050505" stroke-width="0.18">100</text>
<text transform="translate(374.8,572.45) rotate(-90) scale(1,1.0)" font-size="10.9" text-anchor="middle" fill="#050505" stroke="#050505" stroke-width="0.18">Relative effect of estimates (%)</text>
<rect x="415.1" y="481.3" width="36.8" height="1.33" fill="#6f9fbe"/>
<rect x="415.1" y="482.58" width="36.8" height="8.91" fill="#e6a27b"/>
<text transform="translate(433.5,489.82) scale(1,1.05)" font-size="7.6" text-anchor="middle" fill="#1e1e1e" stroke="#1e1e1e" stroke-width="0">4.83%</text>
<rect x="415.1" y="491.45" width="36.8" height="118.24" fill="#a69383"/>
<text transform="translate(433.5,553.34) scale(1,1.05)" font-size="7.6" text-anchor="middle" fill="#1e1e1e" stroke="#1e1e1e" stroke-width="0">64.41%</text>
<rect x="415.1" y="609.64" width="36.8" height="1.28" fill="#d9d8ed"/>
<rect x="415.1" y="610.87" width="36.8" height="50.93" fill="#c27d7a"/>
<text transform="translate(433.5,639.11) scale(1,1.05)" font-size="7.6" text-anchor="middle" fill="#1e1e1e" stroke="#1e1e1e" stroke-width="0">27.73%</text>
<rect x="415.1" y="661.75" width="36.8" height="3.1" fill="#f1c3bd"/>
<line x1="453.2" y1="481.3" x2="460.5" y2="481.3" stroke="#3a3a3a" stroke-width="1.0"/>
<text transform="translate(462.2,484.1) scale(1,1.1)" font-size="7.6" fill="#1a1a1a" stroke="#1a1a1a" stroke-width="0.06">0.70%</text>
<line x1="453.2" y1="610.4" x2="460.5" y2="610.4" stroke="#3a3a3a" stroke-width="1.0"/>
<text transform="translate(462.2,613.2) scale(1,1.1)" font-size="7.6" fill="#1a1a1a" stroke="#1a1a1a" stroke-width="0.06">0.67%</text>
<line x1="453.2" y1="663.6" x2="460.5" y2="663.6" stroke="#3a3a3a" stroke-width="1.0"/>
<text transform="translate(462.2,666.4) scale(1,1.1)" font-size="7.6" fill="#1a1a1a" stroke="#1a1a1a" stroke-width="0.06">1.66%</text>
<text transform="translate(413.7,679.5) scale(1,1.0)" font-size="8.7" fill="#050505" stroke="#050505" stroke-width="0.18"><tspan font-style="italic">R</tspan><tspan font-size="5.8" dy="1.7">m</tspan><tspan font-size="5.6" dy="-4.3">2</tspan><tspan dy="2.6"> = 0.72</tspan></text>
<text transform="translate(413.7,689.7) scale(1,1.0)" font-size="8.7" fill="#050505" stroke="#050505" stroke-width="0.18"><tspan font-style="italic">R</tspan><tspan font-size="5.8" dy="1.7">c</tspan><tspan font-size="5.6" dy="-4.3">2</tspan><tspan dy="2.6"> = 0.91</tspan></text>
<g stroke="#a2a4a2" stroke-width="1.4"><line x1="519.8" y1="487.39" x2="538.2" y2="487.39"/><line x1="519.8" y1="484.79" x2="519.8" y2="489.99"/><line x1="538.2" y1="484.79" x2="538.2" y2="489.99"/></g>
<rect x="526.8" y="485.09" width="4.6" height="4.6" fill="#a2a4a2"/>
<text transform="translate(606.7,490.14) scale(1,1.03)" font-size="9.2" fill="#050505" stroke="#050505" stroke-width="0.18">Slope</text>
<g stroke="#6f9fbe" stroke-width="1.4"><line x1="514.7" y1="498.08" x2="542.5" y2="498.08"/><line x1="514.7" y1="495.48" x2="514.7" y2="500.69"/><line x1="542.5" y1="495.48" x2="542.5" y2="500.69"/></g>
<rect x="526.2" y="495.78" width="4.6" height="4.6" fill="#6f9fbe"/>
<text transform="translate(606.7,500.83) scale(1,1.03)" font-size="9.2" fill="#050505" stroke="#050505" stroke-width="0.18">Climate<tspan font-size="5.8" dy="1.9">PC2</tspan></text>
<g stroke="#80b396" stroke-width="1.4"><line x1="517.3" y1="508.78" x2="541.3" y2="508.78"/><line x1="517.3" y1="506.18" x2="517.3" y2="511.38"/><line x1="541.3" y1="506.18" x2="541.3" y2="511.38"/></g>
<rect x="526.9" y="506.48" width="4.6" height="4.6" fill="#80b396"/>
<text transform="translate(606.7,511.53) scale(1,1.03)" font-size="9.2" fill="#050505" stroke="#050505" stroke-width="0.18">Plant<tspan font-size="5.8" dy="1.9">C</tspan></text>
<g stroke="#80b396" stroke-width="1.4"><line x1="511.2" y1="519.48" x2="532.9" y2="519.48"/><line x1="511.2" y1="516.88" x2="511.2" y2="522.08"/><line x1="532.9" y1="516.88" x2="532.9" y2="522.08"/></g>
<rect x="519.4" y="517.18" width="4.6" height="4.6" fill="#80b396"/>
<text transform="translate(606.7,522.23) scale(1,1.03)" font-size="9.2" fill="#050505" stroke="#050505" stroke-width="0.18">Plant<tspan font-size="5.8" dy="1.9">D</tspan></text>
<g stroke="#e6a27b" stroke-width="1.4"><line x1="530.8" y1="530.17" x2="544.8" y2="530.17"/><line x1="530.8" y1="527.57" x2="530.8" y2="532.77"/><line x1="544.8" y1="527.57" x2="544.8" y2="532.77"/></g>
<rect x="535.2" y="527.87" width="4.6" height="4.6" fill="#e6a27b"/>
<text transform="translate(606.7,532.92) scale(1,1.03)" font-size="9.2" fill="#050505" stroke="#050505" stroke-width="0.18">Litter<tspan font-size="5.8" dy="1.9">PC1</tspan></text>
<g stroke="#e6a27b" stroke-width="1.4"><line x1="530.8" y1="540.87" x2="546.9" y2="540.87"/><line x1="530.8" y1="538.26" x2="530.8" y2="543.47"/><line x1="546.9" y1="538.26" x2="546.9" y2="543.47"/></g>
<rect x="536.4" y="538.57" width="4.6" height="4.6" fill="#e6a27b"/>
<text transform="translate(606.7,543.62) scale(1,1.03)" font-size="9.2" fill="#050505" stroke="#050505" stroke-width="0.18">Litter<tspan font-size="5.8" dy="1.9">PC2</tspan></text>
<g stroke="#a69383" stroke-width="1.4"><line x1="555.3" y1="551.56" x2="584.6" y2="551.56"/><line x1="555.3" y1="548.96" x2="555.3" y2="554.16"/><line x1="584.6" y1="548.96" x2="584.6" y2="554.16"/></g>
<rect x="567.4" y="549.26" width="4.6" height="4.6" fill="#a69383"/>
<text transform="translate(587.5,555.06) scale(1,1.0)" font-size="7.1" fill="#111" stroke="#111" stroke-width="0.15" letter-spacing="1.25">***</text>
<text transform="translate(606.7,554.31) scale(1,1.03)" font-size="9.2" fill="#050505" stroke="#050505" stroke-width="0.18">SM</text>
<g stroke="#a69383" stroke-width="1.4"><line x1="526.8" y1="562.25" x2="541" y2="562.25"/><line x1="526.8" y1="559.65" x2="526.8" y2="564.86"/><line x1="541" y1="559.65" x2="541" y2="564.86"/></g>
<rect x="531.5" y="559.96" width="4.6" height="4.6" fill="#a69383"/>
<text transform="translate(606.7,565) scale(1,1.03)" font-size="9.2" fill="#050505" stroke="#050505" stroke-width="0.18">pH</text>
<g stroke="#9c99bc" stroke-width="1.4"><line x1="520.8" y1="572.95" x2="533.4" y2="572.95"/><line x1="520.8" y1="570.35" x2="520.8" y2="575.55"/><line x1="533.4" y1="570.35" x2="533.4" y2="575.55"/></g>
<rect x="524.7" y="570.65" width="4.6" height="4.6" fill="#9c99bc"/>
<text transform="translate(606.7,575.7) scale(1,1.03)" font-size="9.2" fill="#050505" stroke="#050505" stroke-width="0.18">Bacteria<tspan font-size="5.8" dy="1.9">Shannon</tspan></text>
<g stroke="#9c99bc" stroke-width="1.4"><line x1="526.4" y1="583.64" x2="542.2" y2="583.64"/><line x1="526.4" y1="581.04" x2="526.4" y2="586.25"/><line x1="542.2" y1="581.04" x2="542.2" y2="586.25"/></g>
<rect x="532" y="581.35" width="4.6" height="4.6" fill="#9c99bc"/>
<text transform="translate(606.7,586.39) scale(1,1.03)" font-size="9.2" fill="#050505" stroke="#050505" stroke-width="0.18">Bacteria<tspan font-size="5.8" dy="1.9">PCoA2</tspan></text>
<g stroke="#d9d8ed" stroke-width="1.4"><line x1="524.1" y1="594.34" x2="538.3" y2="594.34"/><line x1="524.1" y1="591.74" x2="524.1" y2="596.94"/><line x1="538.3" y1="591.74" x2="538.3" y2="596.94"/></g>
<rect x="528.9" y="592.04" width="4.6" height="4.6" fill="#d9d8ed"/>
<text transform="translate(606.7,597.09) scale(1,1.03)" font-size="9.2" fill="#050505" stroke="#050505" stroke-width="0.18">Fungi<tspan font-size="5.8" dy="1.9">Shannon</tspan></text>
<g stroke="#d9d8ed" stroke-width="1.4"><line x1="520.6" y1="605.03" x2="543.4" y2="605.03"/><line x1="520.6" y1="602.43" x2="520.6" y2="607.63"/><line x1="543.4" y1="602.43" x2="543.4" y2="607.63"/></g>
<rect x="529.4" y="602.74" width="4.6" height="4.6" fill="#d9d8ed"/>
<text transform="translate(606.7,607.78) scale(1,1.03)" font-size="9.2" fill="#050505" stroke="#050505" stroke-width="0.18">Fungi<tspan font-size="5.8" dy="1.9">PCoA1</tspan></text>
<g stroke="#c27d7a" stroke-width="1.4"><line x1="539.6" y1="615.73" x2="564.4" y2="615.73"/><line x1="539.6" y1="613.13" x2="539.6" y2="618.33"/><line x1="564.4" y1="613.13" x2="564.4" y2="618.33"/></g>
<rect x="549.2" y="613.43" width="4.6" height="4.6" fill="#c27d7a"/>
<text transform="translate(567.4,619.23) scale(1,1.0)" font-size="7.1" fill="#111" stroke="#111" stroke-width="0.15" letter-spacing="1.25">**</text>
<text transform="translate(606.7,618.48) scale(1,1.03)" font-size="9.2" fill="#050505" stroke="#050505" stroke-width="0.18">CCGs<tspan font-size="5.8" dy="1.9">PCoA2</tspan></text>
<g stroke="#c27d7a" stroke-width="1.4"><line x1="527" y1="626.42" x2="552.2" y2="626.42"/><line x1="527" y1="623.82" x2="527" y2="629.02"/><line x1="552.2" y1="623.82" x2="552.2" y2="629.02"/></g>
<rect x="537.3" y="624.12" width="4.6" height="4.6" fill="#c27d7a"/>
<text transform="translate(606.7,629.17) scale(1,1.03)" font-size="9.2" fill="#050505" stroke="#050505" stroke-width="0.18">NCGs<tspan font-size="5.8" dy="1.9">Shannon</tspan></text>
<g stroke="#c27d7a" stroke-width="1.4"><line x1="507.2" y1="637.12" x2="527.3" y2="637.12"/><line x1="507.2" y1="634.52" x2="507.2" y2="639.72"/><line x1="527.3" y1="634.52" x2="527.3" y2="639.72"/></g>
<rect x="514.8" y="634.82" width="4.6" height="4.6" fill="#c27d7a"/>
<text transform="translate(498.2,640.62) scale(1,1.0)" font-size="7.1" fill="#111" stroke="#111" stroke-width="0.15" letter-spacing="1.25">**</text>
<text transform="translate(606.7,639.87) scale(1,1.03)" font-size="9.2" fill="#050505" stroke="#050505" stroke-width="0.18">PCGs<tspan font-size="5.8" dy="1.9">PCoA1</tspan></text>
<g stroke="#f1c3bd" stroke-width="1.4"><line x1="510.7" y1="647.82" x2="527.3" y2="647.82"/><line x1="510.7" y1="645.22" x2="510.7" y2="650.42"/><line x1="527.3" y1="645.22" x2="527.3" y2="650.42"/></g>
<rect x="516.8" y="645.52" width="4.6" height="4.6" fill="#f1c3bd"/>
<text transform="translate(501.7,651.32) scale(1,1.0)" font-size="7.1" fill="#111" stroke="#111" stroke-width="0.15" letter-spacing="1.25">**</text>
<text transform="translate(606.7,650.57) scale(1,1.03)" font-size="9.2" fill="#050505" stroke="#050505" stroke-width="0.18" textLength="78.2" lengthAdjust="spacingAndGlyphs">Microbial biomass<tspan font-size="5.8" dy="1.9">PC1</tspan></text>
<g stroke="#f1c3bd" stroke-width="1.4"><line x1="512.1" y1="658.51" x2="530.8" y2="658.51"/><line x1="512.1" y1="655.91" x2="512.1" y2="661.11"/><line x1="530.8" y1="655.91" x2="530.8" y2="661.11"/></g>
<rect x="519.2" y="656.21" width="4.6" height="4.6" fill="#f1c3bd"/>
<text transform="translate(507.8,662.01) scale(1,1.0)" font-size="7.1" fill="#111" stroke="#111" stroke-width="0.15" letter-spacing="1.25">*</text>
<text transform="translate(606.7,661.26) scale(1,1.03)" font-size="9.2" fill="#050505" stroke="#050505" stroke-width="0.18" textLength="78.2" lengthAdjust="spacingAndGlyphs">Microbial biomass<tspan font-size="5.8" dy="1.9">PC2</tspan></text>
<line x1="531.3" y1="484.99" x2="531.3" y2="665.2" stroke="#555" stroke-width="0.9" stroke-dasharray="4.4,4.85"/>
<line x1="496.1" y1="665.2" x2="595.6" y2="665.2" stroke="#222" stroke-width="1.2"/>
<line x1="502.2" y1="665.2" x2="502.2" y2="669.5" stroke="#222" stroke-width="1.2"/>
<text transform="translate(502.2,679.8) scale(1,1.1)" font-size="8.9" text-anchor="middle" fill="#050505" stroke="#050505" stroke-width="0.18">-0.5</text>
<line x1="531.3" y1="665.2" x2="531.3" y2="669.5" stroke="#222" stroke-width="1.2"/>
<text transform="translate(531.3,679.8) scale(1,1.1)" font-size="8.9" text-anchor="middle" fill="#050505" stroke="#050505" stroke-width="0.18">0.0</text>
<line x1="560.6" y1="665.2" x2="560.6" y2="669.5" stroke="#222" stroke-width="1.2"/>
<text transform="translate(560.6,679.8) scale(1,1.1)" font-size="8.9" text-anchor="middle" fill="#050505" stroke="#050505" stroke-width="0.18">0.5</text>
<line x1="589.8" y1="665.2" x2="589.8" y2="669.5" stroke="#222" stroke-width="1.2"/>
<text transform="translate(589.8,679.8) scale(1,1.1)" font-size="8.9" text-anchor="middle" fill="#050505" stroke="#050505" stroke-width="0.18">1.0</text>
<text transform="translate(546,693.4) scale(1,1.0)" font-size="10.7" text-anchor="middle" fill="#050505" stroke="#050505" stroke-width="0.18">Estimate</text>
<rect x="25.5" y="703.9" width="9.3" height="9.3" fill="#a2a4a2"/>
<text transform="translate(38.5,711.3) scale(1,1.07)" font-size="9.3" fill="#050505" stroke="#050505" stroke-width="0.18">Geographic factors</text>
<rect x="148.3" y="703.9" width="9.3" height="9.3" fill="#6f9fbe"/>
<text transform="translate(161.3,711.3) scale(1,1.07)" font-size="9.3" fill="#050505" stroke="#050505" stroke-width="0.18">Climatic factors</text>
<rect x="255.7" y="703.9" width="9.3" height="9.3" fill="#80b396"/>
<text transform="translate(268.7,711.3) scale(1,1.07)" font-size="9.3" fill="#050505" stroke="#050505" stroke-width="0.18">Dominant plant structural characteristics</text>
<rect x="465.3" y="703.9" width="9.3" height="9.3" fill="#e6a27b"/>
<text transform="translate(478.3,711.3) scale(1,1.07)" font-size="9.3" fill="#050505" stroke="#050505" stroke-width="0.18">Litter ecological stoichiometric characterstics</text>
<rect x="25.5" y="719.9" width="9.3" height="9.3" fill="#a69383"/>
<text transform="translate(38.5,727) scale(1,1.07)" font-size="9.3" fill="#050505" stroke="#050505" stroke-width="0.18">Edaphic factors (ectorhizosphere soil)</text>
<rect x="233.7" y="719.9" width="9.3" height="9.3" fill="#9c99bc"/>
<text transform="translate(246.7,727) scale(1,1.07)" font-size="9.3" fill="#050505" stroke="#050505" stroke-width="0.18">Rhizosphere bacterial community structure</text>
<rect x="465.3" y="719.9" width="9.3" height="9.3" fill="#d9d8ed"/>
<text transform="translate(478.3,727) scale(1,1.07)" font-size="9.3" fill="#050505" stroke="#050505" stroke-width="0.18">Rhizosphere fungal community structure</text>
<rect x="25.5" y="735.4" width="9.3" height="9.3" fill="#c27d7a"/>
<text transform="translate(38.5,743) scale(1,1.07)" font-size="9.3" fill="#050505" stroke="#050505" stroke-width="0.18">C-, N-, P-cycling gene composition and diversity</text>
<rect x="285.4" y="735.4" width="9.3" height="9.3" fill="#f1c3bd"/>
<text transform="translate(298.4,743) scale(1,1.07)" font-size="9.3" fill="#050505" stroke="#050505" stroke-width="0.18">Microbial biomass ecological stoichiometric characterstics &#160;(ectorhizosphere soil)</text>
</svg>
</body></html>
